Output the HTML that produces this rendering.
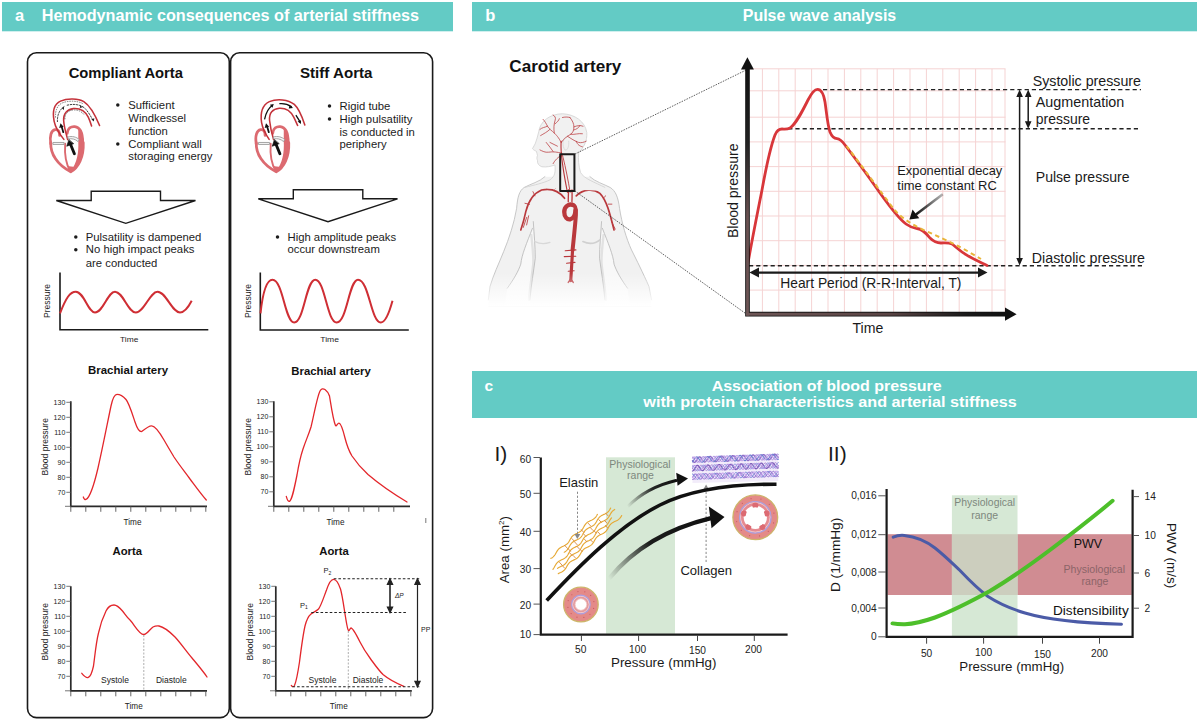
<!DOCTYPE html>
<html><head><meta charset="utf-8">
<style>
html,body{margin:0;padding:0;background:#fff;width:1200px;height:721px;overflow:hidden}
svg{display:block;font-family:"Liberation Sans",sans-serif}
</style></head><body>
<svg width="1200" height="721" viewBox="0 0 1200 721">
<rect width="1200" height="721" fill="#fff"/>
<rect x="2" y="2" width="451" height="29.3" fill="#63cbc5"/>
<rect x="472" y="2" width="725" height="29.3" fill="#63cbc5"/>
<rect x="472" y="371" width="725" height="47" fill="#63cbc5"/>
<text x="15" y="21.2" font-size="16.5" font-weight="bold" fill="#fff" >a</text>
<text x="41.7" y="21.2" font-size="16.2" font-weight="bold" textLength="377.3" lengthAdjust="spacingAndGlyphs" fill="#fff" >Hemodynamic consequences of arterial stiffness</text>
<text x="485.3" y="21.2" font-size="16.5" font-weight="bold" fill="#fff" >b</text>
<text x="742.8" y="21.2" font-size="16.2" font-weight="bold" textLength="153.4" lengthAdjust="spacingAndGlyphs" fill="#fff" >Pulse wave analysis</text>
<text x="484.5" y="391" font-size="15.5" font-weight="bold" fill="#fff" >c</text>
<text x="711.7" y="390.7" font-size="15.3" font-weight="bold" textLength="230" lengthAdjust="spacingAndGlyphs" fill="#fff" >Association of blood pressure</text>
<text x="643.3" y="407.3" font-size="15.3" font-weight="bold" textLength="373.4" lengthAdjust="spacingAndGlyphs" fill="#fff" >with protein characteristics and arterial stiffness</text>
<path d="M36.5,52.8 H220.3 A9,9 0 0 1 229.3,61.8 V708.6 A9,9 0 0 1 220.3,717.6 H36.5 A9,9 0 0 1 27.5,708.6 V61.8 A9,9 0 0 1 36.5,52.8 Z" fill="none" stroke="#1a1a1a" stroke-width="1.6"/>
<path d="M239.6,52.8 H423.6 A9,9 0 0 1 432.6,61.8 V708.6 A9,9 0 0 1 423.6,717.6 H239.6 A9,9 0 0 1 230.6,708.6 V61.8 A9,9 0 0 1 239.6,52.8 Z" fill="none" stroke="#1a1a1a" stroke-width="1.6"/>
<text x="68.7" y="77.5" font-size="15" font-weight="bold" textLength="114.3" lengthAdjust="spacingAndGlyphs" fill="#111" >Compliant Aorta</text>
<text x="300" y="77.5" font-size="15" font-weight="bold" textLength="72.5" lengthAdjust="spacingAndGlyphs" fill="#111" >Stiff Aorta</text>
<circle cx="117.8" cy="105.10000000000001" r="1.75" fill="#1c1c1c"/>
<text x="128.3" y="108.7" font-size="11.3" fill="#1c1c1c" >Sufficient</text>
<text x="128.3" y="121.7" font-size="11.3" fill="#1c1c1c" >Windkessel</text>
<text x="128.3" y="134.7" font-size="11.3" fill="#1c1c1c" >function</text>
<circle cx="117.8" cy="143.9" r="1.75" fill="#1c1c1c"/>
<text x="128.3" y="147.5" font-size="11.3" fill="#1c1c1c" >Compliant wall</text>
<text x="128.3" y="160.3" font-size="11.3" fill="#1c1c1c" >storaging energy</text>
<circle cx="329.5" cy="106.10000000000001" r="1.75" fill="#1c1c1c"/>
<text x="339.5" y="109.7" font-size="11.3" fill="#1c1c1c" >Rigid tube</text>
<circle cx="329.5" cy="118.9" r="1.75" fill="#1c1c1c"/>
<text x="339.5" y="122.5" font-size="11.3" fill="#1c1c1c" >High pulsatility</text>
<text x="339.5" y="135.8" font-size="11.3" fill="#1c1c1c" >is conducted in</text>
<text x="339.5" y="148.3" font-size="11.3" fill="#1c1c1c" >periphery</text>
<circle cx="75.8" cy="236.9" r="1.75" fill="#1c1c1c"/>
<text x="85.8" y="240.5" font-size="11.3" fill="#1c1c1c" >Pulsatility is dampened</text>
<circle cx="75.8" cy="249.70000000000002" r="1.75" fill="#1c1c1c"/>
<text x="85.8" y="253.3" font-size="11.3" fill="#1c1c1c" >No high impact peaks</text>
<text x="85.8" y="266.7" font-size="11.3" fill="#1c1c1c" >are conducted</text>
<circle cx="277.5" cy="236.9" r="1.75" fill="#1c1c1c"/>
<text x="287.5" y="240.5" font-size="11.3" fill="#1c1c1c" >High amplitude peaks</text>
<text x="287.5" y="253.3" font-size="11.3" fill="#1c1c1c" >occur downstream</text>
<path d="M91.2,191.2 H160.5 V200.5 H195.5 L125.8,223.3 L56.3,200.5 H91.2 Z" fill="#fff" stroke="#1a1a1a" stroke-width="1.4"/>
<path d="M293.3,189.7 H362.8 V198.8 H397.5 L328,221.7 L258.3,198.8 H293.3 Z" fill="#fff" stroke="#1a1a1a" stroke-width="1.4"/>
<path d="M60,272.5 V329.8 H208.3" fill="none" stroke="#1a1a1a" stroke-width="1.6"/>
<path d="M60,313.3 C66,298 70,291.7 75.8,291.7 C84,291.7 88,312.5 95,312.5 C103,312.5 108,291.7 115,291.7 C123,291.7 128,312.5 135.8,312.5 C144,312.5 150,291.7 157.5,291.7 C166,291.7 172,312.5 180,312.5 C185,312.5 189,306 191.7,300.8" fill="none" stroke="#cf2e34" stroke-width="2"/>
<path d="M260.3,272.5 V330 H408.8" fill="none" stroke="#1a1a1a" stroke-width="1.6"/>
<path d="M260.5,313.3 C263,290 267,279.7 272.5,279.7 C283,279.7 285,322.5 294.2,322.5 C304,322.5 306,279.7 315.3,279.7 C325,279.7 327,322.5 336.7,322.5 C347,322.5 349,279.7 358,279.7 C369,279.7 371,322.5 380.8,322.5 C386,322.5 390,310 392.5,300.8" fill="none" stroke="#cf2e34" stroke-width="2"/>
<text x="120" y="342" font-size="8" textLength="18.3" lengthAdjust="spacingAndGlyphs" fill="#1c1c1c" >Time</text>
<text x="320.3" y="342" font-size="8" textLength="18.7" lengthAdjust="spacingAndGlyphs" fill="#1c1c1c" >Time</text>
<text transform="translate(50.3,301) rotate(-90)" x="0" y="0" font-size="8.2" text-anchor="middle" textLength="34" lengthAdjust="spacingAndGlyphs" fill="#1c1c1c">Pressure</text>
<text transform="translate(251,301) rotate(-90)" x="0" y="0" font-size="8.2" text-anchor="middle" textLength="34" lengthAdjust="spacingAndGlyphs" fill="#1c1c1c">Pressure</text>
<text x="88" y="373.7" font-size="11.4" font-weight="bold" textLength="80" lengthAdjust="spacingAndGlyphs" fill="#111" >Brachial artery</text>
<path d="M70.8,401.3 V506.3 H207" fill="none" stroke="#2a2a2a" stroke-width="1.7"/>
<path d="M65,506.3 H70.8" stroke="#666" stroke-width="0.9"/>
<path d="M66.3,402.3 H70.8" stroke="#555" stroke-width="0.8"/>
<text x="65.3" y="404.7" font-size="7" text-anchor="end" fill="#222" >130</text>
<path d="M66.3,417.3 H70.8" stroke="#555" stroke-width="0.8"/>
<text x="65.3" y="419.7" font-size="7" text-anchor="end" fill="#222" >120</text>
<path d="M66.3,432.3 H70.8" stroke="#555" stroke-width="0.8"/>
<text x="65.3" y="434.7" font-size="7" text-anchor="end" fill="#222" >110</text>
<path d="M66.3,447.3 H70.8" stroke="#555" stroke-width="0.8"/>
<text x="65.3" y="449.7" font-size="7" text-anchor="end" fill="#222" >100</text>
<path d="M66.3,462.3 H70.8" stroke="#555" stroke-width="0.8"/>
<text x="65.3" y="464.7" font-size="7" text-anchor="end" fill="#222" >90</text>
<path d="M66.3,477.3 H70.8" stroke="#555" stroke-width="0.8"/>
<text x="65.3" y="479.7" font-size="7" text-anchor="end" fill="#222" >80</text>
<path d="M66.3,492.3 H70.8" stroke="#555" stroke-width="0.8"/>
<text x="65.3" y="494.7" font-size="7" text-anchor="end" fill="#222" >70</text>
<path d="M70.8,506.3 V511.8" stroke="#555" stroke-width="0.9"/>
<path d="M85.8,506.3 V511.8" stroke="#555" stroke-width="0.9"/>
<path d="M100.8,506.3 V511.8" stroke="#555" stroke-width="0.9"/>
<path d="M115.8,506.3 V511.8" stroke="#555" stroke-width="0.9"/>
<path d="M130.8,506.3 V511.8" stroke="#555" stroke-width="0.9"/>
<path d="M145.8,506.3 V511.8" stroke="#555" stroke-width="0.9"/>
<path d="M160.8,506.3 V511.8" stroke="#555" stroke-width="0.9"/>
<path d="M175.8,506.3 V511.8" stroke="#555" stroke-width="0.9"/>
<path d="M190.8,506.3 V511.8" stroke="#555" stroke-width="0.9"/>
<path d="M205.8,506.3 V511.8" stroke="#555" stroke-width="0.9"/>
<text x="132.5" y="524.8" font-size="8.2" text-anchor="middle" fill="#222" >Time</text>
<text transform="translate(48.3,446.8) rotate(-90)" x="0" y="0" font-size="8.5" text-anchor="middle" textLength="57.5" lengthAdjust="spacingAndGlyphs" fill="#222">Blood pressure</text>
<path d="M83.3,497 C84,499 85,500 86.3,499.3 C90,497 94,485 98,468 C103,446 108,420 111,406 C112.5,399 114.5,394.3 117,394.3 C120,394.3 123,396 126,399.5 C129,403 132,413 135,422 C137,428 139,431.8 141.5,431.6 C146,428 149,425.5 151.8,425.8 C155,426 160,433 164,440 C168,447 171,452 174,457 C180,466 185,472 190,479 C196,487 201,494 206.3,500" fill="none" stroke="#e3262b" stroke-width="1.3" stroke-linecap="round" stroke-linejoin="round"/>
<text x="291.3" y="375" font-size="11.4" font-weight="bold" textLength="79.5" lengthAdjust="spacingAndGlyphs" fill="#111" >Brachial artery</text>
<path d="M273.8,401.3 V506.3 H410" fill="none" stroke="#2a2a2a" stroke-width="1.7"/>
<path d="M268,506.3 H273.8" stroke="#666" stroke-width="0.9"/>
<path d="M269.3,401.8 H273.8" stroke="#555" stroke-width="0.8"/>
<text x="268.3" y="404.2" font-size="7" text-anchor="end" fill="#222" >130</text>
<path d="M269.3,416.8 H273.8" stroke="#555" stroke-width="0.8"/>
<text x="268.3" y="419.2" font-size="7" text-anchor="end" fill="#222" >120</text>
<path d="M269.3,431.8 H273.8" stroke="#555" stroke-width="0.8"/>
<text x="268.3" y="434.2" font-size="7" text-anchor="end" fill="#222" >110</text>
<path d="M269.3,446.8 H273.8" stroke="#555" stroke-width="0.8"/>
<text x="268.3" y="449.2" font-size="7" text-anchor="end" fill="#222" >100</text>
<path d="M269.3,461.8 H273.8" stroke="#555" stroke-width="0.8"/>
<text x="268.3" y="464.2" font-size="7" text-anchor="end" fill="#222" >90</text>
<path d="M269.3,476.8 H273.8" stroke="#555" stroke-width="0.8"/>
<text x="268.3" y="479.2" font-size="7" text-anchor="end" fill="#222" >80</text>
<path d="M269.3,491.8 H273.8" stroke="#555" stroke-width="0.8"/>
<text x="268.3" y="494.2" font-size="7" text-anchor="end" fill="#222" >70</text>
<path d="M273.8,506.3 V511.8" stroke="#555" stroke-width="0.9"/>
<path d="M288.8,506.3 V511.8" stroke="#555" stroke-width="0.9"/>
<path d="M303.8,506.3 V511.8" stroke="#555" stroke-width="0.9"/>
<path d="M318.8,506.3 V511.8" stroke="#555" stroke-width="0.9"/>
<path d="M333.8,506.3 V511.8" stroke="#555" stroke-width="0.9"/>
<path d="M348.8,506.3 V511.8" stroke="#555" stroke-width="0.9"/>
<path d="M363.8,506.3 V511.8" stroke="#555" stroke-width="0.9"/>
<path d="M378.8,506.3 V511.8" stroke="#555" stroke-width="0.9"/>
<path d="M393.8,506.3 V511.8" stroke="#555" stroke-width="0.9"/>
<text x="335.5" y="524.8" font-size="8.2" text-anchor="middle" fill="#222" >Time</text>
<text transform="translate(251,446.8) rotate(-90)" x="0" y="0" font-size="8.5" text-anchor="middle" textLength="57.5" lengthAdjust="spacingAndGlyphs" fill="#222">Blood pressure</text>
<path d="M286.3,496.3 C287,499 288,501.5 289.5,501.3 C292,500 294,490 297,475 C299,463 301,455 303,449 C306,440 308.5,435 311,427 C314,415 317,397 320,391 C321.5,388.5 323,388.3 325,389.5 C327,391 328.5,392 329.5,396 C331,405 333,420 335.5,425.5 C336.5,427 337.5,423 339,423.2 C341,423.5 343,430 345,438 C347,446 349,451 352,456 C357,463.5 362,469 368,474.5 C378,483 392,493 407,502" fill="none" stroke="#e3262b" stroke-width="1.3" stroke-linecap="round" stroke-linejoin="round"/>
<text x="112.5" y="555" font-size="11.4" font-weight="bold" textLength="29.5" lengthAdjust="spacingAndGlyphs" fill="#111" >Aorta</text>
<path d="M70.8,586.3 V690.8 H207" fill="none" stroke="#2a2a2a" stroke-width="1.7"/>
<path d="M65,690.8 H70.8" stroke="#666" stroke-width="0.9"/>
<path d="M66.3,586.3 H70.8" stroke="#555" stroke-width="0.8"/>
<text x="65.3" y="588.6999999999999" font-size="7" text-anchor="end" fill="#222" >130</text>
<path d="M66.3,601.3 H70.8" stroke="#555" stroke-width="0.8"/>
<text x="65.3" y="603.6999999999999" font-size="7" text-anchor="end" fill="#222" >120</text>
<path d="M66.3,616.3 H70.8" stroke="#555" stroke-width="0.8"/>
<text x="65.3" y="618.6999999999999" font-size="7" text-anchor="end" fill="#222" >110</text>
<path d="M66.3,631.3 H70.8" stroke="#555" stroke-width="0.8"/>
<text x="65.3" y="633.6999999999999" font-size="7" text-anchor="end" fill="#222" >100</text>
<path d="M66.3,646.3 H70.8" stroke="#555" stroke-width="0.8"/>
<text x="65.3" y="648.6999999999999" font-size="7" text-anchor="end" fill="#222" >90</text>
<path d="M66.3,661.3 H70.8" stroke="#555" stroke-width="0.8"/>
<text x="65.3" y="663.6999999999999" font-size="7" text-anchor="end" fill="#222" >80</text>
<path d="M66.3,676.3 H70.8" stroke="#555" stroke-width="0.8"/>
<text x="65.3" y="678.6999999999999" font-size="7" text-anchor="end" fill="#222" >70</text>
<path d="M70.8,690.8 V696.3" stroke="#555" stroke-width="0.9"/>
<path d="M85.8,690.8 V696.3" stroke="#555" stroke-width="0.9"/>
<path d="M100.8,690.8 V696.3" stroke="#555" stroke-width="0.9"/>
<path d="M115.8,690.8 V696.3" stroke="#555" stroke-width="0.9"/>
<path d="M130.8,690.8 V696.3" stroke="#555" stroke-width="0.9"/>
<path d="M145.8,690.8 V696.3" stroke="#555" stroke-width="0.9"/>
<path d="M160.8,690.8 V696.3" stroke="#555" stroke-width="0.9"/>
<path d="M175.8,690.8 V696.3" stroke="#555" stroke-width="0.9"/>
<path d="M190.8,690.8 V696.3" stroke="#555" stroke-width="0.9"/>
<path d="M205.8,690.8 V696.3" stroke="#555" stroke-width="0.9"/>
<text x="133.8" y="709.3" font-size="8.2" text-anchor="middle" fill="#222" >Time</text>
<text transform="translate(48.3,631.8) rotate(-90)" x="0" y="0" font-size="8.5" text-anchor="middle" textLength="57.5" lengthAdjust="spacingAndGlyphs" fill="#222">Blood pressure</text>
<path d="M81.8,673.3 C84,676 86,677.8 88,677.5 C90.5,677 92,673 93.5,666 C95,655 96,643 98.5,633 C100,626 103,617 106,611 C108,607 111,605 114,605 C117,605 119.5,607.5 122.5,611 C125,614 127,617.5 130,620 C134,624 139,634.5 143.8,634.5 C147,634.5 150,629 153,627 C155,626 157,625.8 159,626 C164,627 169,631 175,637 C181,643.5 186,651 192,658 C197,664 203,671 207,677" fill="none" stroke="#e3262b" stroke-width="1.3" stroke-linecap="round" stroke-linejoin="round"/>
<text x="319.3" y="555" font-size="11.4" font-weight="bold" textLength="29.5" lengthAdjust="spacingAndGlyphs" fill="#111" >Aorta</text>
<path d="M275.8,586.3 V690.8 H411.8" fill="none" stroke="#2a2a2a" stroke-width="1.7"/>
<path d="M270,690.8 H275.8" stroke="#666" stroke-width="0.9"/>
<path d="M271.3,586.3 H275.8" stroke="#555" stroke-width="0.8"/>
<text x="270.3" y="588.6999999999999" font-size="7" text-anchor="end" fill="#222" >130</text>
<path d="M271.3,601.3 H275.8" stroke="#555" stroke-width="0.8"/>
<text x="270.3" y="603.6999999999999" font-size="7" text-anchor="end" fill="#222" >120</text>
<path d="M271.3,616.3 H275.8" stroke="#555" stroke-width="0.8"/>
<text x="270.3" y="618.6999999999999" font-size="7" text-anchor="end" fill="#222" >110</text>
<path d="M271.3,631.3 H275.8" stroke="#555" stroke-width="0.8"/>
<text x="270.3" y="633.6999999999999" font-size="7" text-anchor="end" fill="#222" >100</text>
<path d="M271.3,646.3 H275.8" stroke="#555" stroke-width="0.8"/>
<text x="270.3" y="648.6999999999999" font-size="7" text-anchor="end" fill="#222" >90</text>
<path d="M271.3,661.3 H275.8" stroke="#555" stroke-width="0.8"/>
<text x="270.3" y="663.6999999999999" font-size="7" text-anchor="end" fill="#222" >80</text>
<path d="M271.3,676.3 H275.8" stroke="#555" stroke-width="0.8"/>
<text x="270.3" y="678.6999999999999" font-size="7" text-anchor="end" fill="#222" >70</text>
<path d="M275.8,690.8 V696.3" stroke="#555" stroke-width="0.9"/>
<path d="M290.8,690.8 V696.3" stroke="#555" stroke-width="0.9"/>
<path d="M305.8,690.8 V696.3" stroke="#555" stroke-width="0.9"/>
<path d="M320.8,690.8 V696.3" stroke="#555" stroke-width="0.9"/>
<path d="M335.8,690.8 V696.3" stroke="#555" stroke-width="0.9"/>
<path d="M350.8,690.8 V696.3" stroke="#555" stroke-width="0.9"/>
<path d="M365.8,690.8 V696.3" stroke="#555" stroke-width="0.9"/>
<path d="M380.8,690.8 V696.3" stroke="#555" stroke-width="0.9"/>
<path d="M395.8,690.8 V696.3" stroke="#555" stroke-width="0.9"/>
<path d="M410.8,690.8 V696.3" stroke="#555" stroke-width="0.9"/>
<text x="338.8" y="709.3" font-size="8.2" text-anchor="middle" fill="#222" >Time</text>
<text transform="translate(253,631.8) rotate(-90)" x="0" y="0" font-size="8.5" text-anchor="middle" textLength="57.5" lengthAdjust="spacingAndGlyphs" fill="#222">Blood pressure</text>
<path d="M291.3,685.5 C292.5,687 293.5,687 294.5,685.5 C296.5,681 298,672 299.5,662 C301,650 303,635 305,626 C306.5,620 308,616.5 311,614 C313,612.5 316,611.5 318.5,609 C321,606 323.5,598 326.5,590 C328.5,584 331,579.3 333.5,579.3 C336,579.3 338.5,583 340.5,589 C342.5,596 344,608 345.5,617 C346.5,623 347.5,630 348.6,630.8 C349.5,631 350,628 351,628 C353,628 356,634 360,642 C364,650 367,654 371,659.5 C375,665 378.5,670 383,674.5 C389,679.5 397,683.5 403.8,686.3" fill="none" stroke="#e3262b" stroke-width="1.3" stroke-linecap="round" stroke-linejoin="round"/>
<text x="115" y="682.5" font-size="8.5" text-anchor="middle" fill="#222" >Systole</text>
<text x="171.3" y="682.5" font-size="8.5" text-anchor="middle" fill="#222" >Diastole</text>
<path d="M143.8,635 V690" stroke="#999" stroke-width="0.8" stroke-dasharray="2,1.5"/>
<text x="322.5" y="682.5" font-size="8.5" text-anchor="middle" fill="#222" >Systole</text>
<text x="368" y="682.5" font-size="8.5" text-anchor="middle" fill="#222" >Diastole</text>
<path d="M348.3,631 V690" stroke="#999" stroke-width="0.8" stroke-dasharray="2,1.5"/>
<g stroke="#222" stroke-width="1.1" stroke-dasharray="2.6,2"><path d="M333.8,578.8 H420"/><path d="M311.3,612.5 H407.5"/><path d="M292.5,686.8 H420"/></g>
<g stroke="#222" stroke-width="1.2" fill="#222"><path d="M390,582 V609.5" stroke="#333" stroke-width="1.7"/><path d="M390,578.8 l-2.6,5.5 h5.2z M390,612.5 l-2.6,-5.5 h5.2z"/><path d="M417.5,582 V683.5"/><path d="M417.5,578.8 l-2.6,5.5 h5.2z M417.5,686.8 l-2.6,-5.5 h5.2z"/></g>
<text x="300" y="607.5" font-size="7.5" fill="#222">P<tspan font-size="5" dy="1.5">1</tspan></text>
<text x="323.5" y="573" font-size="7.5" fill="#222">P<tspan font-size="5" dy="1.5">2</tspan></text>
<text x="395" y="598" font-size="6.5" font-style="italic" fill="#222">ΔP</text>
<text x="421" y="632.2" font-size="7" fill="#222" >PP</text>
<path d="M425.8,518 V523" stroke="#555" stroke-width="0.8"/>
<g transform="translate(45,95) scale(0.11090)" fill="none" stroke-linecap="round" stroke-linejoin="round"><path d="M300,420 C305,520 290,610 232,690 C300,660 352,560 348,430 C346,380 335,330 300,300 Z" fill="#dc6a70" stroke="none"/><path d="M52,440 C40,370 55,318 92,312 C118,308 132,330 132,365" stroke="#dc6a70" stroke-width="25"/><path d="M200,345 C205,300 235,282 268,285 C318,290 340,345 340,430" stroke="#dc6a70" stroke-width="25"/><path d="M52,430 C48,530 110,630 232,692 C300,655 350,560 345,430" stroke="#dc6a70" stroke-width="25"/><path d="M182,440 C176,520 185,615 228,688" stroke="#dc6a70" stroke-width="17"/><path d="M200,640 C215,665 225,680 232,692 C250,680 262,668 272,650 Z" fill="#dc6a70" stroke="none"/><path d="M170,400 C130,350 95,300 82,235 C68,160 75,85 140,55 C200,28 300,30 350,60 C405,95 450,175 492,275" stroke="#c4323a" stroke-width="14"/><path d="M205,402 C190,350 172,290 168,230 C165,170 200,130 255,123 C320,118 365,150 390,200 C402,225 412,255 420,280" stroke="#c4323a" stroke-width="14"/><path d="M75,428 L172,428 L172,446 L75,446 Z" fill="#f4f4f4" stroke="#9a9a9a" stroke-width="8"/><path d="M208,378 C245,368 285,378 308,402 L298,420 C272,396 240,390 212,396 Z" fill="#f4f4f4" stroke="#9a9a9a" stroke-width="8"/><path d="M265,530 L228,440" stroke="#111" stroke-width="26"/><path d="M215,405 L196,462 L256,440 Z" fill="#111" stroke="#111" stroke-width="6"/><path d="M165,335 L150,285" stroke="#111" stroke-width="16"/><path d="M140,255 L128,298 L168,286 Z" fill="#111"/><path d="M112,240 C110,180 130,130 180,100" stroke="#222" stroke-width="8" stroke-dasharray="14,14"/><path d="M200,92 C270,75 330,90 365,125 C395,160 415,195 430,225" stroke="#222" stroke-width="8" stroke-dasharray="14,14"/><path d="M440,240 L418,218 L445,210 Z" fill="#222"/><path d="M338,110 L318,92 L314,118 Z" fill="#222"/><path d="M172,105 L150,118 L170,135 Z" fill="#222"/><path d="M95,200 C92,140 110,90 160,70 C220,48 300,52 345,80" stroke="#555" stroke-width="7" stroke-dasharray="6,16"/><path d="M180,215 C178,170 205,140 255,135 C300,132 330,150 350,175" stroke="#555" stroke-width="7" stroke-dasharray="6,16"/></g>
<g transform="translate(250.5,95) scale(0.11090)" fill="none" stroke-linecap="round" stroke-linejoin="round"><path d="M300,420 C305,520 290,610 232,690 C300,660 352,560 348,430 C346,380 335,330 300,300 Z" fill="#dc6a70" stroke="none"/><path d="M52,440 C40,370 55,318 92,312 C118,308 132,330 132,365" stroke="#dc6a70" stroke-width="25"/><path d="M200,345 C205,300 235,282 268,285 C318,290 340,345 340,430" stroke="#dc6a70" stroke-width="25"/><path d="M52,430 C48,530 110,630 232,692 C300,655 350,560 345,430" stroke="#dc6a70" stroke-width="25"/><path d="M182,440 C176,520 185,615 228,688" stroke="#dc6a70" stroke-width="17"/><path d="M200,640 C215,665 225,680 232,692 C250,680 262,668 272,650 Z" fill="#dc6a70" stroke="none"/><path d="M168,400 C140,360 112,320 100,250 C88,170 100,95 170,60 C240,30 340,40 395,85 C440,125 465,195 490,270" stroke="#c4323a" stroke-width="14"/><path d="M208,402 C195,360 180,300 172,230 C166,160 200,125 260,120 C320,117 365,150 390,200 C405,230 415,255 425,275" stroke="#c4323a" stroke-width="14"/><path d="M75,428 L172,428 L172,446 L75,446 Z" fill="#f4f4f4" stroke="#9a9a9a" stroke-width="8"/><path d="M208,378 C245,368 285,378 308,402 L298,420 C272,396 240,390 212,396 Z" fill="#f4f4f4" stroke="#9a9a9a" stroke-width="8"/><path d="M265,530 L228,440" stroke="#111" stroke-width="26"/><path d="M215,405 L196,462 L256,440 Z" fill="#111" stroke="#111" stroke-width="6"/><path d="M165,335 L150,285" stroke="#111" stroke-width="16"/><path d="M140,255 L128,298 L168,286 Z" fill="#111"/><path d="M128,215 C140,160 160,120 195,95" stroke="#111" stroke-width="12"/><path d="M210,82 L175,88 L198,115 Z" fill="#111"/><path d="M265,78 C300,75 340,85 368,105" stroke="#111" stroke-width="12"/><path d="M385,118 L352,92 L345,122 Z" fill="#111"/><path d="M412,185 C425,205 438,225 448,245" stroke="#111" stroke-width="12"/><path d="M455,262 L425,238 L455,228 Z" fill="#111"/></g>
<text x="509.3" y="71.6" font-size="17" font-weight="bold" textLength="112" lengthAdjust="spacingAndGlyphs" fill="#111" >Carotid artery</text>
<defs><linearGradient id="fadeB" x1="0" y1="0" x2="0" y2="1"><stop offset="0" stop-color="#fff" stop-opacity="0"/><stop offset="1" stop-color="#fff" stop-opacity="1"/></linearGradient></defs><g transform="translate(485,180) scale(0.16650)" stroke-linejoin="round" stroke-linecap="round"><path d="M360,-20 C330,10 270,25 235,45 C205,65 195,105 190,170 C175,260 145,350 112,430 C80,510 50,570 30,640 L20,760 L1000,760 L985,640 C950,560 910,480 880,420 C848,350 822,260 808,170 C800,105 785,65 752,45 C715,25 660,10 630,-20 Z" fill="#f1f1f1" stroke="none"/><path d="M360,-20 C330,10 270,25 235,45 C205,65 195,105 190,170 C175,260 145,350 112,430 C80,510 50,570 30,640 L20,720 M630,-20 C660,10 715,25 752,45 C785,65 800,105 808,170 C822,260 848,350 880,420 C910,480 950,560 985,640 L1000,720" fill="none" stroke="#bdbdbd" stroke-width="5"/><path d="M705,290 C740,380 770,450 775,505 C790,550 820,600 856,650 L870,760 L722,760 C715,630 700,550 690,470 C690,400 695,330 705,290 Z" fill="#f8f8f8" stroke="none"/><path d="M285,290 C250,380 220,450 215,505 C200,550 170,600 134,650 L120,760 L272,760 C275,630 280,550 290,470 C300,400 295,330 285,290 Z" fill="#f8f8f8" stroke="none"/><path d="M712,330 C705,400 698,450 700,500 C708,580 720,640 726,720" fill="none" stroke="#e2e2e2" stroke-width="14"/><path d="M278,330 C285,400 292,450 290,500 C282,580 270,640 264,720" fill="none" stroke="#e2e2e2" stroke-width="14"/><path d="M700,250 C695,330 688,400 688,470 C698,550 713,630 720,720" fill="none" stroke="#b8b8b8" stroke-width="5"/><path d="M290,250 C295,330 302,400 302,470 C292,550 277,630 270,720" fill="none" stroke="#b8b8b8" stroke-width="5"/><path d="M705,290 C740,380 770,450 775,505 C790,550 820,600 856,650" fill="none" stroke="#b8b8b8" stroke-width="5"/><path d="M285,290 C250,380 220,450 215,505 C200,550 170,600 134,650" fill="none" stroke="#b8b8b8" stroke-width="5"/><path d="M300,370 C330,385 360,385 390,375" fill="none" stroke="#d8d8d8" stroke-width="8"/><path d="M588,370 C620,385 660,385 693,358" fill="none" stroke="#d0d0d0" stroke-width="10"/><g fill="none" stroke="#b9383c"><path d="M478,110 C440,60 390,50 340,60 C290,80 260,130 245,190 C235,240 225,270 215,300" stroke-width="10"/><path d="M548,95 C590,55 650,50 690,80 C730,120 750,200 775,300" stroke-width="10"/><path d="M240,140 L268,146 M250,225 L230,285 M262,215 L250,270 M368,48 L362,38 M420,55 L430,44 M300,95 L288,70 M710,110 L725,95 M740,145 L762,145 M760,250 L782,295 M650,60 L660,45 M600,55 L590,44" stroke-width="5"/><path d="M500,130 C500,90 503,40 505,-10 M522,130 C525,90 522,40 520,-10" stroke-width="8"/><path d="M528,150 C503,140 476,160 476,192 C476,224 495,240 512,236 C532,230 543,205 543,180" stroke-width="26"/><path d="M526,148 C550,152 548,185 546,210 C541,280 533,350 526,420" stroke-width="24"/><path d="M526,420 C521,500 518,560 515,605" stroke-width="19"/><path d="M482,425 L546,420 M476,460 L545,458 M490,500 L540,495 M500,548 L535,545" stroke-width="7"/><path d="M500,615 L515,595 L530,615" stroke-width="9"/></g><rect x="-20" y="560" width="1100" height="200" fill="url(#fadeB)"/></g>
<g transform="translate(525,105) scale(0.12480)" stroke-linejoin="round" stroke-linecap="round"><path d="M240,480 C245,540 240,570 200,600 C150,625 80,640 0,660 L640,690 C560,620 470,590 445,540 C430,490 425,430 430,385 C470,340 500,290 495,220 C480,130 400,75 300,70 C200,72 120,130 110,215 C100,250 95,280 82,310 L60,350 C70,362 85,368 92,372 C95,385 98,395 100,405 C93,420 95,432 100,445 C98,470 110,485 135,495 C170,500 210,492 240,480 Z" fill="#f1f1f1" stroke="none"/><path d="M0,660 C80,640 150,625 200,600 C240,570 245,540 240,480 C210,492 170,500 135,495 C110,485 98,470 100,445 C95,432 93,420 100,405 C98,395 95,385 92,372 C85,368 70,362 60,350 L82,310 C95,280 100,250 110,215 C120,130 200,72 300,70 C400,75 480,130 495,220 C500,290 470,340 430,385 C425,430 430,490 445,540 C470,590 560,620 640,660" fill="none" stroke="#cfcfcf" stroke-width="6"/><path d="M330,255 C300,260 295,330 320,360 C340,370 355,330 350,290" fill="none" stroke="#d0d0d0" stroke-width="5"/><g fill="none" stroke="#b9383c" stroke-width="6"><path d="M340,700 C320,600 300,480 292,400 C287,340 288,310 290,290" stroke-width="9"/><path d="M362,700 C345,600 325,500 305,420 C300,400 296,390 292,380" stroke-width="7"/><path d="M290,300 C270,260 250,240 235,225 C215,205 195,195 180,170 C170,150 160,130 145,115"/><path d="M235,225 C228,190 232,150 242,120 C248,100 240,90 225,80 M242,150 C260,135 270,125 275,110 M180,170 C160,180 135,180 120,195 M200,195 C180,215 150,230 125,245"/><path d="M290,300 C310,270 340,250 365,235 C385,222 392,200 392,175 C392,150 380,125 360,100 M392,175 C420,165 440,160 465,170 M365,235 C395,240 425,225 460,230 M340,250 C370,270 400,290 430,300 C450,305 470,300 490,290"/><path d="M360,100 C340,95 320,95 300,100 M392,200 C410,195 430,185 440,165 M410,290 C420,320 440,330 460,335"/><path d="M292,385 C260,378 225,372 190,378 C160,382 140,370 120,360 M225,372 C210,350 190,325 170,300 M292,400 C265,420 240,440 225,470 M260,330 C240,320 220,310 200,300"/></g><rect x="282" y="395" width="114" height="294" fill="none" stroke="#1a1a1a" stroke-width="16"/></g>
<path d="M575,154 L747,69.6 M575,191 L747,314.5" stroke="#333" stroke-width="0.8" stroke-dasharray="1.5,1.2" fill="none"/>
<g stroke="#f5d3d3" stroke-width="1" fill="none"><path d="M762.4,68.8 V313"/><path d="M778.8,68.8 V313"/><path d="M795.2,68.8 V313"/><path d="M811.6,68.8 V313"/><path d="M828.0,68.8 V313"/><path d="M844.4,68.8 V313"/><path d="M860.8,68.8 V313"/><path d="M877.2,68.8 V313"/><path d="M893.6,68.8 V313"/><path d="M910.0,68.8 V313"/><path d="M926.4,68.8 V313"/><path d="M942.8,68.8 V313"/><path d="M959.2,68.8 V313"/><path d="M975.6,68.8 V313"/><path d="M992.0,68.8 V313"/><path d="M1005.0,68.8 V313"/><path d="M749,68.8 H1005.5"/><path d="M749,90.8 H1005.5"/><path d="M749,117.2 H1005.5"/><path d="M749,141.9 H1005.5"/><path d="M749,166.6 H1005.5"/><path d="M749,191.3 H1005.5"/><path d="M749,216.0 H1005.5"/><path d="M749,240.7 H1005.5"/><path d="M749,265.4 H1005.5"/><path d="M749,290.1 H1005.5"/></g>
<g stroke="#222" stroke-width="1.4" stroke-dasharray="4.2,3" fill="none"><path d="M823,89.6 H1141"/><path d="M781,128.8 H1139"/><path d="M749,265.8 H1142.6"/></g>
<path d="M748,263 C752,240 757,215 762,190 C766,168 770,148 775,135 C777,130 779,129 782,129 C785,129 787,129.5 790,128 C796,124 802,112 808,100 C811,94 814,89.3 817.5,89.3 C821,89.3 823.5,93 825,102 C826.5,112 827.5,125 830,132 C832,137 834,138.5 837,138.7 C840,139 842,141 845,145 C855,158 868,176 880,193 C890,207 898,218 906,224 C910,227 913,228 917,228.5 C922,229 926,233 930,238 C933,241 937,243 941,243 C945,243 949,242.5 952,244 C956,247 960,251 966,254.6 C972,258.5 980,262 987,265.4" fill="none" stroke="#d8363a" stroke-width="2.8" stroke-linecap="round" stroke-linejoin="round"/>
<path d="M846.5,146 C862,166 880,191 895,210.5 C902,218 912,225 925,230.5 C937,236 948,241 958,246 C966,250 974,255 981,259" fill="none" stroke="#e9b53a" stroke-width="2" stroke-dasharray="4.5,3.5"/>
<defs><linearGradient id="yax" x1="0" y1="0" x2="0" y2="1"><stop offset="0" stop-color="#111"/><stop offset="0.3" stop-color="#222"/><stop offset="0.6" stop-color="#6a5252"/><stop offset="1" stop-color="#6e5656"/></linearGradient><linearGradient id="xax" x1="0" y1="0" x2="1" y2="0"><stop offset="0" stop-color="#6e5656"/><stop offset="0.55" stop-color="#5a4444"/><stop offset="0.85" stop-color="#1a1a1a"/><stop offset="1" stop-color="#111"/></linearGradient><linearGradient id="expA" x1="0" y1="0" x2="1" y2="0"><stop offset="0" stop-color="#111"/><stop offset="1" stop-color="#111" stop-opacity="0.3"/></linearGradient></defs>
<path d="M745.2,68 H749.8 V311.8 H1006 V316.6 H745.2 Z" fill="#111"/>
<rect x="746.1" y="68" width="2.8" height="247.6" fill="url(#yax)"/>
<rect x="746.1" y="312.7" width="259.9" height="3" fill="url(#xax)"/>
<path d="M747.4,57.2 L753.9,69.6 L741,69.6 Z" fill="#111"/>
<path d="M1016.6,314.2 L1005,307.6 L1005,320.8 Z" fill="#111"/>
<path d="M756,272.6 H980" stroke="#1a1a1a" stroke-width="2.2"/>
<path d="M749.4,272.6 L759,267.6 L759,277.6 Z M987.5,272.6 L978,267.6 L978,277.6 Z" fill="#1a1a1a"/>
<g stroke="#1a1a1a" stroke-width="1.5"><path d="M1019.6,95 V260"/><path d="M1028.2,95 V123"/></g>
<path d="M1019.6,89.6 l-3.3,7.5 h6.6z M1019.6,265.4 l-3.3,-7.5 h6.6z M1028.2,89.6 l-3.3,7.5 h6.6z M1028.2,128.7 l-3.3,-7.5 h6.6z" fill="#1a1a1a"/>
<path d="M942.8,194.2 L916,214.5" stroke="url(#expA)" stroke-width="2.6" fill="none"/>
<path d="M909.4,219.4 L912.5,209.6 L919.3,218.2 Z" fill="#111"/>
<text x="1032.7" y="86" font-size="14.2" textLength="108.3" lengthAdjust="spacingAndGlyphs" fill="#1a1a1a" >Systolic pressure</text>
<text x="1035.8" y="107.3" font-size="14.2" textLength="88.5" lengthAdjust="spacingAndGlyphs" fill="#1a1a1a" >Augmentation</text>
<text x="1035.8" y="124.1" font-size="14.2" textLength="54.3" lengthAdjust="spacingAndGlyphs" fill="#1a1a1a" >pressure</text>
<text x="1035.8" y="181.5" font-size="14.2" textLength="93.7" lengthAdjust="spacingAndGlyphs" fill="#1a1a1a" >Pulse pressure</text>
<text x="1031.8" y="263" font-size="14.2" textLength="113.2" lengthAdjust="spacingAndGlyphs" fill="#1a1a1a" >Diastolic pressure</text>
<text x="897.3" y="175.2" font-size="12.9" textLength="105" lengthAdjust="spacingAndGlyphs" fill="#1a1a1a" >Exponential decay</text>
<text x="897.3" y="189.7" font-size="12.9" textLength="99.5" lengthAdjust="spacingAndGlyphs" fill="#1a1a1a" >time constant RC</text>
<text x="780.2" y="287.6" font-size="13.9" textLength="181.3" lengthAdjust="spacingAndGlyphs" fill="#1a1a1a" >Heart Period (R-R-Interval, T)</text>
<text x="852.5" y="332.8" font-size="14.2" textLength="30.8" lengthAdjust="spacingAndGlyphs" fill="#1a1a1a" >Time</text>
<text transform="translate(737.8,190.8) rotate(-90)" x="0" y="0" font-size="14" text-anchor="middle" textLength="94.6" lengthAdjust="spacingAndGlyphs" fill="#1a1a1a">Blood pressure</text>
<text x="494.5" y="461" font-size="21" fill="#1a1a1a" >I)</text>
<rect x="606" y="457.3" width="69" height="176.5" fill="#d6e8d5"/>
<text x="609.3" y="467.8" font-size="10.5" textLength="61.3" lengthAdjust="spacingAndGlyphs" fill="#7d877d" >Physiological</text>
<text x="640.5" y="479.4" font-size="10.5" text-anchor="middle" fill="#7d877d" >range</text>
<path d="M540.8,457.5 V634.6 H787.6" fill="none" stroke="#1a1a1a" stroke-width="2.2"/>
<path d="M533.5,457.5 H540" stroke="#555" stroke-width="1"/>
<text x="531.2" y="462.9" font-size="10.2" text-anchor="end" fill="#222" >60</text>
<path d="M533.5,493.3 H540" stroke="#555" stroke-width="1"/>
<text x="531.2" y="497.90000000000003" font-size="10.2" text-anchor="end" fill="#222" >50</text>
<path d="M533.5,531.3 H540" stroke="#555" stroke-width="1"/>
<text x="531.2" y="535.5" font-size="10.2" text-anchor="end" fill="#222" >40</text>
<path d="M533.5,568.6 H540" stroke="#555" stroke-width="1"/>
<text x="531.2" y="573.0" font-size="10.2" text-anchor="end" fill="#222" >30</text>
<path d="M533.5,604.1 H540" stroke="#555" stroke-width="1"/>
<text x="531.2" y="608.5" font-size="10.2" text-anchor="end" fill="#222" >20</text>
<path d="M533.5,634.6 H540" stroke="#555" stroke-width="1"/>
<text x="531.2" y="638.2" font-size="10.2" text-anchor="end" fill="#222" >10</text>
<path d="M581.4,635 V641" stroke="#444" stroke-width="1"/>
<text x="580.7" y="653.4" font-size="10.2" text-anchor="middle" fill="#222" >50</text>
<path d="M638.6,635 V641" stroke="#444" stroke-width="1"/>
<text x="637.6" y="653.4" font-size="10.2" text-anchor="middle" fill="#222" >100</text>
<path d="M697.5,635 V641" stroke="#444" stroke-width="1"/>
<text x="697.5" y="654.3" font-size="10.2" text-anchor="middle" fill="#222" >150</text>
<path d="M754.3,635 V641" stroke="#444" stroke-width="1"/>
<text x="753.5" y="653.4" font-size="10.2" text-anchor="middle" fill="#222" >200</text>
<text x="611" y="666.5" font-size="13.4" textLength="105.5" lengthAdjust="spacingAndGlyphs" fill="#1a1a1a" >Pressure (mmHg)</text>
<text transform="translate(508.5,549.7) rotate(-90)" font-size="13.3" text-anchor="middle" fill="#1a1a1a">Area (mm<tspan font-size="8" dy="-5">2</tspan><tspan dy="5">)</tspan></text>
<g fill="none" stroke="#e6a935" stroke-width="1.15" stroke-linecap="round" stroke-linejoin="round"><polyline points="550.90,558.36 551.72,557.91 552.50,557.40 553.22,556.83 553.87,556.19 554.47,555.49 555.01,554.73 555.51,553.92 555.98,553.08 556.44,552.24 556.91,551.40 557.41,550.60 557.96,549.84 558.56,549.14 559.22,548.51 559.94,547.95 560.72,547.45 561.55,547.00 562.41,546.58 563.29,546.18 564.16,545.77 565.01,545.34 565.81,544.86 566.57,544.33 567.26,543.74 567.89,543.07 568.47,542.35 568.99,541.56 569.47,540.74 569.94,539.90 570.40,539.06 570.88,538.23 571.40,537.45 571.96,536.71 572.59,536.04 573.27,535.43 574.02,534.90 574.82,534.41 575.67,533.98 576.53,533.57 577.41,533.17 578.27,532.75 579.11,532.31 579.90,531.81 580.63,531.26 581.30,530.63 581.91,529.95 582.46,529.20 582.96,528.40 583.44,527.57 583.90,526.72 584.37,525.88 584.86,525.07 585.39,524.30 585.98,523.59 586.63,522.94 587.34,522.37 588.11,521.85 588.93,521.39 589.78,520.96 590.65,520.56 591.53,520.15 592.38,519.73 593.20,519.27 593.97,518.75 594.68,518.17 595.32,517.52 595.91,516.81 596.44,516.04 596.93,515.23 597.40,514.39"/><polyline points="564.25,552.16 565.07,551.69 565.83,551.16 566.53,550.57 567.17,549.92 567.75,549.20 568.27,548.42 568.76,547.60 569.23,546.76 569.69,545.92 570.17,545.09 570.68,544.30 571.24,543.56 571.86,542.88 572.53,542.27 573.28,541.72 574.07,541.23 574.91,540.79 575.78,540.38 576.65,539.98 577.52,539.57 578.36,539.13 579.15,538.64 579.89,538.09 580.57,537.47 581.18,536.79 581.74,536.05 582.25,535.26 582.73,534.43 583.19,533.58 583.66,532.74 584.14,531.93 584.67,531.15 585.25,530.43 585.89,529.78 586.60,529.19 587.36,528.67 588.17,528.20 589.03,527.78 589.90,527.37 590.77,526.97 591.63,526.55 592.45,526.09 593.23,525.58 593.94,525.01 594.60,524.37 595.19,523.66 595.73,522.90 596.22,522.09 596.69,521.25 597.15,520.40 597.63,519.57 598.13,518.77 598.67,518.02 599.28,517.32 599.94,516.69 600.67,516.13 601.45,515.63 602.28,515.18 603.14,514.77 604.02,514.36 604.89,513.96 605.74,513.52 606.54,513.05 607.29,512.51 607.99,511.91 608.62,511.25 609.19,510.52 609.71,509.74 610.19,508.91 610.65,508.07"/><polyline points="552.91,569.32 553.65,568.31 554.32,567.22 554.94,566.09 555.57,564.97 556.25,563.89 557.02,562.92 557.90,562.05 558.88,561.31 559.97,560.67 561.12,560.10 562.29,559.56 563.45,559.00 564.54,558.37 565.54,557.64 566.42,556.78 567.20,555.81 567.88,554.75 568.52,553.63 569.14,552.49 569.80,551.40 570.53,550.38 571.37,549.48 572.32,548.70 573.37,548.02 574.50,547.44 575.68,546.89 576.84,546.34 577.96,545.74 578.99,545.05 579.92,544.23 580.73,543.30 581.44,542.27 582.09,541.16 582.71,540.02 583.35,538.91 584.06,537.86 584.86,536.92 585.77,536.10 586.79,535.39 587.90,534.78 589.06,534.22 590.23,533.68 591.37,533.10 592.44,532.44 593.40,531.67 594.25,530.78 594.99,529.78 595.66,528.69 596.28,527.56 596.91,526.43 597.59,525.36 598.35,524.38 599.23,523.51 600.21,522.76 601.29,522.12 602.44,521.55 603.62,521.01 604.77,520.45 605.87,519.82 606.87,519.09 607.75,518.24 608.53,517.28 609.22,516.21 609.86,515.09 610.48,513.96 611.14,512.86 611.87,511.84 612.70,510.94 613.65,510.15 614.70,509.48"/><polyline points="557.49,568.36 558.37,567.75 559.31,567.22 560.31,566.73 561.32,566.27 562.32,565.79 563.28,565.28 564.18,564.69 565.01,564.02 565.75,563.27 566.41,562.42 567.00,561.51 567.55,560.55 568.09,559.57 568.63,558.61 569.22,557.69 569.87,556.84 570.60,556.07 571.42,555.40 572.31,554.80 573.27,554.28 574.26,553.80 575.28,553.33 576.27,552.85 577.23,552.33 578.12,551.73 578.92,551.05 579.65,550.27 580.30,549.42 580.88,548.50 581.43,547.53 581.96,546.55 582.51,545.60 583.11,544.69 583.78,543.85 584.52,543.10 585.35,542.43 586.25,541.85 587.22,541.34 588.22,540.86 589.23,540.40 590.22,539.91 591.17,539.37 592.04,538.76 592.84,538.07 593.55,537.28 594.19,536.41 594.76,535.48 595.30,534.51 595.84,533.53 596.40,532.58 597.01,531.68 597.68,530.86 598.44,530.12 599.28,529.48 600.20,528.91 601.17,528.40 602.18,527.93 603.19,527.46 604.17,526.97 605.11,526.42 605.97,525.80 606.75,525.08 607.45,524.28 608.07,523.40 608.64,522.46 609.18,521.49 609.72,520.52 610.28,519.57 610.90,518.68 611.59,517.87"/><polyline points="558.30,573.63 559.46,573.07 560.63,572.53 561.78,571.96 562.86,571.32 563.85,570.57 564.72,569.70 565.48,568.72 566.16,567.65 566.79,566.52 567.41,565.39 568.08,564.30 568.82,563.30 569.67,562.41 570.64,561.64 571.70,560.98 572.84,560.40 574.01,559.86 575.18,559.30 576.29,558.69 577.31,557.98 578.22,557.16 579.02,556.21 579.72,555.17 580.36,554.05 580.98,552.92 581.63,551.81 582.34,550.78 583.16,549.84 584.08,549.03 585.11,548.34 586.23,547.74 587.40,547.19 588.57,546.64 589.70,546.06 590.75,545.38 591.70,544.60 592.54,543.69 593.27,542.68 593.93,541.58 594.55,540.45 595.19,539.33 595.88,538.26 596.65,537.30 597.54,536.44 598.53,535.71 599.62,535.08 600.78,534.52 601.96,533.98 603.11,533.41 604.19,532.77 605.18,532.03 606.05,531.16 606.82,530.18 607.50,529.11 608.13,527.99 608.75,526.85 609.42,525.76 610.16,524.76 611.01,523.87 611.97,523.09 613.03,522.43 614.17,521.85 615.34,521.31 616.50,520.75 617.61,520.14 618.64,519.44 619.55,518.62 620.35,517.68 621.06,516.63 621.70,515.52"/></g><g stroke="#d88a40" stroke-width="0.9" fill="none"><path d="M564.39,545.05 L567.46,548.34"/><path d="M571.63,538.30 L574.70,541.59"/><path d="M581.07,529.49 L584.14,532.78"/><path d="M587.97,523.06 L591.04,526.35"/><path d="M567.64,548.17 L570.71,551.46"/><path d="M574.48,541.80 L577.55,545.09"/><path d="M583.29,533.58 L586.35,536.87"/><path d="M590.03,527.29 L593.10,530.58"/><path d="M598.52,519.38 L601.59,522.67"/><path d="M605.41,512.95 L608.48,516.24"/><path d="M559.27,562.13 L562.20,565.28"/><path d="M569.48,552.61 L572.41,555.76"/><path d="M576.60,545.97 L579.53,549.11"/><path d="M584.16,538.92 L587.10,542.06"/><path d="M593.50,530.21 L596.43,533.35"/><path d="M604.24,520.19 L607.17,523.34"/><path d="M562.08,565.39 L564.80,568.32"/><path d="M572.94,555.26 L575.67,558.18"/><path d="M579.73,548.93 L582.46,551.86"/><path d="M590.08,539.28 L592.81,542.20"/><path d="M597.93,531.96 L600.66,534.88"/><path d="M605.15,525.23 L607.87,528.15"/></g>
<path d="M577.5,491.7 V535" stroke="#888" stroke-width="1" stroke-dasharray="2.2,1.8"/>
<path d="M577.3,539 L574.5,534 L580.3,534 Z" fill="#888"/>
<text x="559.2" y="487" font-size="13" textLength="39.1" lengthAdjust="spacingAndGlyphs" fill="#1a1a1a" >Elastin</text>
<path d="M692.5,456.5 L778.3,453.5 L778.3,481 L692.5,483 Z" fill="#ece4f8" opacity="0.7"/><g fill="none" stroke-linecap="round"><polyline points="692.5,460.6 692.9,461.3 693.4,461.8 693.8,462.2 694.2,462.4 694.6,462.4 695.1,462.2 695.5,461.8 695.9,461.3 696.4,460.7 696.8,460.0 697.2,459.2 697.6,458.5 698.1,457.9 698.5,457.4 698.9,457.0 699.4,456.9 699.8,456.9 700.2,457.1 700.7,457.4 701.1,457.9 701.5,458.6 701.9,459.2 702.4,459.9 702.8,460.6 703.2,461.1 703.7,461.6 704.1,461.9 704.5,462.0 704.9,462.0 705.4,461.8 705.8,461.4 706.2,460.9 706.7,460.3 707.1,459.7 707.5,459.0 707.9,458.3 708.4,457.7 708.8,457.2 709.2,456.8 709.7,456.6 710.1,456.5 710.5,456.5 710.9,456.8 711.4,457.1 711.8,457.6 712.2,458.2 712.7,458.8 713.1,459.4 713.5,460.0 714.0,460.6 714.4,461.0 714.8,461.4 715.2,461.6 715.7,461.7 716.1,461.6 716.5,461.4 717.0,461.0 717.4,460.5 717.8,460.0 718.2,459.4 718.7,458.7 719.1,458.1 719.5,457.5 720.0,457.0 720.4,456.6 720.8,456.3 721.2,456.1 721.7,456.1 722.1,456.2 722.5,456.5 723.0,456.9 723.4,457.4 723.8,457.9 724.2,458.5 724.7,459.1 725.1,459.7 725.5,460.3 726.0,460.7 726.4,461.0 726.8,461.2 727.2,461.3 727.7,461.2 728.1,460.9 728.5,460.5 729.0,460.0 729.4,459.4 729.8,458.7 730.3,458.1 730.7,457.4 731.1,456.8 731.5,456.3 732.0,456.0 732.4,455.7 732.8,455.7 733.3,455.8 733.7,456.1 734.1,456.5 734.5,457.0 735.0,457.6 735.4,458.3 735.8,458.9 736.3,459.6 736.7,460.1 737.1,460.5 737.5,460.8 738.0,460.9 738.4,460.8 738.8,460.5 739.3,460.1 739.7,459.6 740.1,458.9 740.5,458.2 741.0,457.5 741.4,456.8 741.8,456.2 742.3,455.7 742.7,455.4 743.1,455.3 743.6,455.4 744.0,455.7 744.4,456.1 744.8,456.7 745.3,457.3 745.7,458.0 746.1,458.7 746.6,459.4 747.0,459.9 747.4,460.3 747.8,460.5 748.3,460.5 748.7,460.3 749.1,460.0 749.6,459.4 750.0,458.8 750.4,458.1 750.8,457.3 751.3,456.6 751.7,456.0 752.1,455.5 752.6,455.1 753.0,455.0 753.4,455.0 753.8,455.2 754.3,455.6 754.7,456.2 755.1,456.8 755.6,457.5 756.0,458.2 756.4,458.8 756.8,459.4 757.3,459.8 757.7,460.1 758.1,460.2 758.6,460.1 759.0,459.8 759.4,459.4 759.9,458.8 760.3,458.2 760.7,457.5 761.1,456.8 761.6,456.1 762.0,455.5 762.4,455.1 762.9,454.8 763.3,454.6 763.7,454.6 764.1,454.8 764.6,455.1 765.0,455.6 765.4,456.2 765.9,456.8 766.3,457.4 766.7,458.1 767.1,458.6 767.6,459.1 768.0,459.5 768.4,459.7 768.9,459.8 769.3,459.7 769.7,459.5 770.1,459.2 770.6,458.7 771.0,458.1 771.4,457.5 771.9,456.8 772.3,456.2 772.7,455.6 773.2,455.1 773.6,454.7 774.0,454.4 774.4,454.2 774.9,454.2 775.3,454.4 775.7,454.6 776.2,455.0 776.6,455.5 777.0,456.1 777.4,456.7 777.9,457.3 778.3,457.9" stroke="#8e6cc8" stroke-width="1.3"/><polyline points="692.5,461.9 692.9,461.4 693.4,460.8 693.8,460.1 694.2,459.4 694.6,458.7 695.1,458.1 695.5,457.6 695.9,457.2 696.4,457.0 696.8,456.9 697.2,457.1 697.6,457.3 698.1,457.8 698.5,458.3 698.9,458.9 699.4,459.6 699.8,460.2 700.2,460.8 700.7,461.3 701.1,461.7 701.5,462.0 701.9,462.1 702.4,462.1 702.8,461.9 703.2,461.6 703.7,461.1 704.1,460.6 704.5,460.0 704.9,459.3 705.4,458.7 705.8,458.0 706.2,457.5 706.7,457.1 707.1,456.8 707.5,456.6 707.9,456.6 708.4,456.7 708.8,456.9 709.2,457.3 709.7,457.8 710.1,458.4 710.5,459.0 710.9,459.6 711.4,460.2 711.8,460.7 712.2,461.1 712.7,461.5 713.1,461.7 713.5,461.7 714.0,461.7 714.4,461.4 714.8,461.1 715.2,460.6 715.7,460.0 716.1,459.4 716.5,458.8 717.0,458.1 717.4,457.5 717.8,457.0 718.2,456.6 718.7,456.3 719.1,456.2 719.5,456.2 720.0,456.3 720.4,456.7 720.8,457.1 721.2,457.6 721.7,458.2 722.1,458.9 722.5,459.5 723.0,460.1 723.4,460.6 723.8,461.0 724.2,461.3 724.7,461.4 725.1,461.3 725.5,461.0 726.0,460.6 726.4,460.1 726.8,459.5 727.2,458.8 727.7,458.1 728.1,457.4 728.5,456.8 729.0,456.3 729.4,456.0 729.8,455.8 730.3,455.8 730.7,456.0 731.1,456.4 731.5,456.9 732.0,457.5 732.4,458.2 732.8,458.9 733.3,459.5 733.7,460.1 734.1,460.6 734.5,460.9 735.0,461.0 735.4,460.9 735.8,460.7 736.3,460.2 736.7,459.6 737.1,458.9 737.5,458.2 738.0,457.5 738.4,456.8 738.8,456.2 739.3,455.8 739.7,455.5 740.1,455.4 740.5,455.5 741.0,455.9 741.4,456.3 741.8,456.9 742.3,457.6 742.7,458.3 743.1,459.0 743.6,459.6 744.0,460.1 744.4,460.5 744.8,460.6 745.3,460.6 745.7,460.4 746.1,460.0 746.6,459.4 747.0,458.8 747.4,458.1 747.8,457.4 748.3,456.7 748.7,456.1 749.1,455.6 749.6,455.2 750.0,455.1 750.4,455.1 750.8,455.3 751.3,455.7 751.7,456.1 752.1,456.7 752.6,457.4 753.0,458.1 753.4,458.7 753.8,459.3 754.3,459.7 754.7,460.1 755.1,460.3 755.6,460.3 756.0,460.1 756.4,459.8 756.8,459.4 757.3,458.8 757.7,458.2 758.1,457.5 758.6,456.9 759.0,456.2 759.4,455.7 759.9,455.2 760.3,454.9 760.7,454.7 761.1,454.7 761.6,454.8 762.0,455.1 762.4,455.5 762.9,456.0 763.3,456.5 763.7,457.2 764.1,457.8 764.6,458.4 765.0,458.9 765.4,459.3 765.9,459.6 766.3,459.8 766.7,459.9 767.1,459.8 767.6,459.5 768.0,459.2 768.4,458.7 768.9,458.1 769.3,457.5 769.7,456.9 770.1,456.2 770.6,455.6 771.0,455.1 771.4,454.7 771.9,454.4 772.3,454.3 772.7,454.3 773.2,454.5 773.6,454.8 774.0,455.2 774.4,455.7 774.9,456.3 775.3,456.9 775.7,457.5 776.2,458.1 776.6,458.6 777.0,459.1 777.4,459.3 777.9,459.5 778.3,459.5" stroke="#6a7fd0" stroke-width="1.1"/><polyline points="692.5,458.2 692.9,457.7 693.4,457.3 693.8,457.1 694.2,457.0 694.6,457.1 695.1,457.4 695.5,457.7 695.9,458.2 696.4,458.8 696.8,459.4 697.2,460.0 697.6,460.6 698.1,461.1 698.5,461.6 698.9,461.9 699.4,462.2 699.8,462.2 700.2,462.2 700.7,461.9 701.1,461.6 701.5,461.1 701.9,460.6 702.4,459.9 702.8,459.3 703.2,458.7 703.7,458.1 704.1,457.5 704.5,457.1 704.9,456.8 705.4,456.7 705.8,456.6 706.2,456.8 706.7,457.0 707.1,457.4 707.5,457.9 707.9,458.5 708.4,459.1 708.8,459.7 709.2,460.3 709.7,460.9 710.1,461.3 710.5,461.6 710.9,461.8 711.4,461.8 711.8,461.7 712.2,461.4 712.7,461.0 713.1,460.4 713.5,459.8 714.0,459.1 714.4,458.5 714.8,457.8 715.2,457.2 715.7,456.8 716.1,456.4 716.5,456.3 717.0,456.3 717.4,456.4 717.8,456.7 718.2,457.2 718.7,457.8 719.1,458.4 719.5,459.1 720.0,459.8 720.4,460.4 720.8,460.9 721.2,461.2 721.7,461.4 722.1,461.4 722.5,461.2 723.0,460.9 723.4,460.4 723.8,459.8 724.2,459.0 724.7,458.3 725.1,457.6 725.5,457.0 726.0,456.4 726.4,456.1 726.8,455.9 727.2,455.9 727.7,456.1 728.1,456.5 728.5,457.0 729.0,457.7 729.4,458.4 729.8,459.1 730.3,459.7 730.7,460.3 731.1,460.8 731.5,461.0 732.0,461.1 732.4,461.0 732.8,460.7 733.3,460.2 733.7,459.6 734.1,458.9 734.5,458.1 735.0,457.4 735.4,456.8 735.8,456.2 736.3,455.8 736.7,455.6 737.1,455.5 737.5,455.7 738.0,456.0 738.4,456.5 738.8,457.1 739.3,457.8 739.7,458.5 740.1,459.1 740.5,459.7 741.0,460.2 741.4,460.5 741.8,460.7 742.3,460.7 742.7,460.5 743.1,460.2 743.6,459.7 744.0,459.1 744.4,458.5 744.8,457.8 745.3,457.1 745.7,456.5 746.1,455.9 746.6,455.5 747.0,455.3 747.4,455.2 747.8,455.2 748.3,455.4 748.7,455.8 749.1,456.3 749.6,456.8 750.0,457.5 750.4,458.1 750.8,458.7 751.3,459.3 751.7,459.7 752.1,460.1 752.6,460.3 753.0,460.4 753.4,460.3 753.8,460.1 754.3,459.7 754.7,459.2 755.1,458.6 755.6,458.0 756.0,457.4 756.4,456.7 756.8,456.2 757.3,455.6 757.7,455.2 758.1,454.9 758.6,454.8 759.0,454.8 759.4,454.9 759.9,455.2 760.3,455.6 760.7,456.1 761.1,456.7 761.6,457.3 762.0,457.9 762.4,458.5 762.9,459.0 763.3,459.4 763.7,459.7 764.1,459.9 764.6,460.0 765.0,459.8 765.4,459.6 765.9,459.2 766.3,458.7 766.7,458.1 767.1,457.4 767.6,456.8 768.0,456.1 768.4,455.5 768.9,455.0 769.3,454.7 769.7,454.4 770.1,454.4 770.6,454.5 771.0,454.7 771.4,455.1 771.9,455.6 772.3,456.2 772.7,456.9 773.2,457.5 773.6,458.2 774.0,458.7 774.4,459.1 774.9,459.4 775.3,459.6 775.7,459.5 776.2,459.3 776.6,458.9 777.0,458.4 777.4,457.8 777.9,457.1 778.3,456.3" stroke="#c2a4e8" stroke-width="1.1"/><polyline points="692.5,457.2 692.9,457.5 693.4,457.9 693.8,458.3 694.2,458.9 694.6,459.5 695.1,460.1 695.5,460.7 695.9,461.2 696.4,461.7 696.8,462.0 697.2,462.2 697.6,462.3 698.1,462.2 698.5,462.0 698.9,461.6 699.4,461.1 699.8,460.6 700.2,459.9 700.7,459.3 701.1,458.6 701.5,458.0 701.9,457.5 702.4,457.1 702.8,456.8 703.2,456.7 703.7,456.7 704.1,456.9 704.5,457.3 704.9,457.8 705.4,458.3 705.8,459.0 706.2,459.6 706.7,460.3 707.1,460.8 707.5,461.3 707.9,461.7 708.4,461.9 708.8,461.9 709.2,461.8 709.7,461.4 710.1,461.0 710.5,460.4 710.9,459.7 711.4,459.0 711.8,458.3 712.2,457.7 712.7,457.1 713.1,456.7 713.5,456.4 714.0,456.3 714.4,456.4 714.8,456.7 715.2,457.2 715.7,457.8 716.1,458.4 716.5,459.1 717.0,459.8 717.4,460.5 717.8,461.0 718.2,461.4 718.7,461.5 719.1,461.5 719.5,461.3 720.0,460.9 720.4,460.4 720.8,459.7 721.2,459.0 721.7,458.3 722.1,457.6 722.5,456.9 723.0,456.5 723.4,456.1 723.8,456.0 724.2,456.0 724.7,456.3 725.1,456.7 725.5,457.3 726.0,457.9 726.4,458.6 726.8,459.3 727.2,460.0 727.7,460.5 728.1,460.9 728.5,461.2 729.0,461.2 729.4,461.1 729.8,460.7 730.3,460.3 730.7,459.7 731.1,459.0 731.5,458.3 732.0,457.6 732.4,456.9 732.8,456.4 733.3,456.0 733.7,455.7 734.1,455.6 734.5,455.7 735.0,456.0 735.4,456.4 735.8,456.9 736.3,457.5 736.7,458.2 737.1,458.8 737.5,459.5 738.0,460.0 738.4,460.4 738.8,460.7 739.3,460.8 739.7,460.8 740.1,460.6 740.5,460.3 741.0,459.8 741.4,459.3 741.8,458.6 742.3,458.0 742.7,457.3 743.1,456.7 743.6,456.2 744.0,455.7 744.4,455.4 744.8,455.3 745.3,455.3 745.7,455.4 746.1,455.7 746.6,456.0 747.0,456.5 747.4,457.1 747.8,457.7 748.3,458.3 748.7,458.9 749.1,459.4 749.6,459.9 750.0,460.2 750.4,460.4 750.8,460.4 751.3,460.3 751.7,460.1 752.1,459.7 752.6,459.3 753.0,458.7 753.4,458.1 753.8,457.4 754.3,456.8 754.7,456.2 755.1,455.7 755.6,455.3 756.0,455.0 756.4,454.9 756.8,454.9 757.3,455.0 757.7,455.3 758.1,455.8 758.6,456.3 759.0,456.9 759.4,457.6 759.9,458.2 760.3,458.8 760.7,459.3 761.1,459.7 761.6,459.9 762.0,460.0 762.4,460.0 762.9,459.8 763.3,459.4 763.7,458.9 764.1,458.3 764.6,457.6 765.0,456.9 765.4,456.2 765.9,455.6 766.3,455.1 766.7,454.7 767.1,454.5 767.6,454.5 768.0,454.6 768.4,454.9 768.9,455.4 769.3,456.0 769.7,456.7 770.1,457.4 770.6,458.0 771.0,458.6 771.4,459.1 771.9,459.5 772.3,459.7 772.7,459.7 773.2,459.4 773.6,459.1 774.0,458.5 774.4,457.9 774.9,457.1 775.3,456.4 775.7,455.7 776.2,455.1 776.6,454.6 777.0,454.2 777.4,454.1 777.9,454.2 778.3,454.4" stroke="#9c80d8" stroke-width="0.9"/><polyline points="692.5,471.0 692.9,470.8 693.4,470.5 693.8,470.0 694.2,469.4 694.6,468.7 695.1,467.9 695.5,467.2 695.9,466.5 696.4,466.0 696.8,465.6 697.2,465.4 697.6,465.4 698.1,465.6 698.5,466.0 698.9,466.5 699.4,467.1 699.8,467.8 700.2,468.5 700.7,469.1 701.1,469.7 701.5,470.2 701.9,470.5 702.4,470.6 702.8,470.6 703.2,470.4 703.7,470.0 704.1,469.5 704.5,468.8 704.9,468.2 705.4,467.5 705.8,466.8 706.2,466.2 706.7,465.7 707.1,465.3 707.5,465.1 707.9,465.0 708.4,465.2 708.8,465.4 709.2,465.8 709.7,466.4 710.1,467.0 710.5,467.6 710.9,468.2 711.4,468.8 711.8,469.4 712.2,469.8 712.7,470.1 713.1,470.2 713.5,470.2 714.0,470.1 714.4,469.8 714.8,469.4 715.2,468.8 715.7,468.2 716.1,467.6 716.5,467.0 717.0,466.3 717.4,465.8 717.8,465.3 718.2,465.0 718.7,464.7 719.1,464.7 719.5,464.7 720.0,464.9 720.4,465.3 720.8,465.7 721.2,466.2 721.7,466.8 722.1,467.5 722.5,468.1 723.0,468.6 723.4,469.1 723.8,469.5 724.2,469.7 724.7,469.8 725.1,469.8 725.5,469.6 726.0,469.3 726.4,468.9 726.8,468.3 727.2,467.7 727.7,467.0 728.1,466.4 728.5,465.8 729.0,465.2 729.4,464.8 729.8,464.5 730.3,464.3 730.7,464.3 731.1,464.4 731.5,464.7 732.0,465.1 732.4,465.7 732.8,466.3 733.3,467.0 733.7,467.6 734.1,468.2 734.5,468.7 735.0,469.1 735.4,469.4 735.8,469.5 736.3,469.4 736.7,469.1 737.1,468.7 737.5,468.1 738.0,467.5 738.4,466.8 738.8,466.1 739.3,465.4 739.7,464.8 740.1,464.3 740.5,464.0 741.0,463.9 741.4,463.9 741.8,464.2 742.3,464.6 742.7,465.1 743.1,465.8 743.6,466.5 744.0,467.2 744.4,467.8 744.8,468.4 745.3,468.8 745.7,469.1 746.1,469.1 746.6,469.0 747.0,468.6 747.4,468.1 747.8,467.5 748.3,466.8 748.7,466.0 749.1,465.3 749.6,464.7 750.0,464.1 750.4,463.8 750.8,463.6 751.3,463.6 751.7,463.8 752.1,464.1 752.6,464.6 753.0,465.3 753.4,466.0 753.8,466.7 754.3,467.3 754.7,467.9 755.1,468.4 755.6,468.7 756.0,468.8 756.4,468.7 756.8,468.4 757.3,468.0 757.7,467.4 758.1,466.7 758.6,466.0 759.0,465.3 759.4,464.7 759.9,464.1 760.3,463.6 760.7,463.3 761.1,463.2 761.6,463.2 762.0,463.4 762.4,463.8 762.9,464.3 763.3,464.9 763.7,465.5 764.1,466.2 764.6,466.8 765.0,467.4 765.4,467.8 765.9,468.2 766.3,468.4 766.7,468.4 767.1,468.2 767.6,468.0 768.0,467.5 768.4,467.0 768.9,466.4 769.3,465.8 769.7,465.1 770.1,464.5 770.6,463.9 771.0,463.4 771.4,463.1 771.9,462.9 772.3,462.8 772.7,462.9 773.2,463.1 773.6,463.4 774.0,463.9 774.4,464.4 774.9,465.0 775.3,465.7 775.7,466.3 776.2,466.8 776.6,467.3 777.0,467.6 777.4,467.9 777.9,468.0 778.3,467.9" stroke="#7a5cb8" stroke-width="1.3"/><polyline points="692.5,467.3 692.9,466.7 693.4,466.1 693.8,465.8 694.2,465.6 694.6,465.5 695.1,465.7 695.5,466.0 695.9,466.4 696.4,467.0 696.8,467.6 697.2,468.3 697.6,468.9 698.1,469.5 698.5,470.0 698.9,470.4 699.4,470.6 699.8,470.7 700.2,470.6 700.7,470.4 701.1,470.0 701.5,469.5 701.9,468.9 702.4,468.3 702.8,467.6 703.2,467.0 703.7,466.4 704.1,465.9 704.5,465.5 704.9,465.2 705.4,465.1 705.8,465.2 706.2,465.4 706.7,465.7 707.1,466.2 707.5,466.7 707.9,467.3 708.4,467.9 708.8,468.5 709.2,469.1 709.7,469.5 710.1,469.9 710.5,470.2 710.9,470.3 711.4,470.3 711.8,470.1 712.2,469.8 712.7,469.4 713.1,468.9 713.5,468.3 714.0,467.6 714.4,467.0 714.8,466.4 715.2,465.8 715.7,465.4 716.1,465.0 716.5,464.8 717.0,464.7 717.4,464.8 717.8,465.0 718.2,465.4 718.7,465.9 719.1,466.4 719.5,467.1 720.0,467.7 720.4,468.3 720.8,468.9 721.2,469.3 721.7,469.7 722.1,469.9 722.5,469.9 723.0,469.8 723.4,469.5 723.8,469.1 724.2,468.6 724.7,468.0 725.1,467.3 725.5,466.6 726.0,465.9 726.4,465.3 726.8,464.9 727.2,464.5 727.7,464.4 728.1,464.4 728.5,464.6 729.0,464.9 729.4,465.4 729.8,466.0 730.3,466.7 730.7,467.4 731.1,468.0 731.5,468.6 732.0,469.1 732.4,469.4 732.8,469.6 733.3,469.5 733.7,469.3 734.1,468.9 734.5,468.3 735.0,467.6 735.4,466.9 735.8,466.2 736.3,465.5 736.7,464.9 737.1,464.4 737.5,464.1 738.0,464.0 738.4,464.1 738.8,464.3 739.3,464.8 739.7,465.4 740.1,466.0 740.5,466.8 741.0,467.5 741.4,468.1 741.8,468.6 742.3,469.0 742.7,469.2 743.1,469.2 743.6,469.0 744.0,468.6 744.4,468.1 744.8,467.5 745.3,466.7 745.7,466.0 746.1,465.3 746.6,464.7 747.0,464.2 747.4,463.8 747.8,463.7 748.3,463.7 748.7,463.9 749.1,464.2 749.6,464.7 750.0,465.3 750.4,466.0 750.8,466.7 751.3,467.3 751.7,467.9 752.1,468.4 752.6,468.7 753.0,468.8 753.4,468.8 753.8,468.6 754.3,468.3 754.7,467.8 755.1,467.2 755.6,466.6 756.0,465.9 756.4,465.2 756.8,464.6 757.3,464.1 757.7,463.7 758.1,463.4 758.6,463.3 759.0,463.3 759.4,463.5 759.9,463.8 760.3,464.3 760.7,464.8 761.1,465.4 761.6,466.0 762.0,466.7 762.4,467.2 762.9,467.7 763.3,468.1 763.7,468.4 764.1,468.5 764.6,468.4 765.0,468.2 765.4,467.9 765.9,467.5 766.3,467.0 766.7,466.4 767.1,465.7 767.6,465.1 768.0,464.5 768.4,463.9 768.9,463.5 769.3,463.1 769.7,462.9 770.1,462.9 770.6,463.0 771.0,463.2 771.4,463.5 771.9,464.0 772.3,464.6 772.7,465.2 773.2,465.8 773.6,466.4 774.0,466.9 774.4,467.4 774.9,467.8 775.3,468.0 775.7,468.1 776.2,468.0 776.6,467.8 777.0,467.4 777.4,466.9 777.9,466.3 778.3,465.7" stroke="#b896e4" stroke-width="1.1"/><polyline points="692.5,465.8 692.9,466.1 693.4,466.5 693.8,467.0 694.2,467.6 694.6,468.2 695.1,468.9 695.5,469.5 695.9,470.0 696.4,470.4 696.8,470.7 697.2,470.8 697.6,470.8 698.1,470.6 698.5,470.3 698.9,469.9 699.4,469.4 699.8,468.8 700.2,468.2 700.7,467.5 701.1,466.9 701.5,466.3 701.9,465.9 702.4,465.5 702.8,465.3 703.2,465.2 703.7,465.3 704.1,465.5 704.5,465.8 704.9,466.3 705.4,466.8 705.8,467.4 706.2,468.0 706.7,468.6 707.1,469.2 707.5,469.7 707.9,470.0 708.4,470.3 708.8,470.4 709.2,470.4 709.7,470.2 710.1,469.8 710.5,469.4 710.9,468.8 711.4,468.2 711.8,467.5 712.2,466.9 712.7,466.2 713.1,465.7 713.5,465.3 714.0,465.0 714.4,464.8 714.8,464.8 715.2,465.0 715.7,465.4 716.1,465.9 716.5,466.4 717.0,467.1 717.4,467.7 717.8,468.4 718.2,469.0 718.7,469.5 719.1,469.8 719.5,470.0 720.0,470.0 720.4,469.8 720.8,469.5 721.2,469.0 721.7,468.4 722.1,467.7 722.5,467.0 723.0,466.3 723.4,465.6 723.8,465.1 724.2,464.7 724.7,464.5 725.1,464.5 725.5,464.6 726.0,465.0 726.4,465.5 726.8,466.1 727.2,466.8 727.7,467.5 728.1,468.2 728.5,468.8 729.0,469.3 729.4,469.6 729.8,469.7 730.3,469.6 730.7,469.3 731.1,468.9 731.5,468.3 732.0,467.6 732.4,466.9 732.8,466.1 733.3,465.4 733.7,464.9 734.1,464.4 734.5,464.2 735.0,464.1 735.4,464.2 735.8,464.5 736.3,465.0 736.7,465.6 737.1,466.3 737.5,467.0 738.0,467.6 738.4,468.3 738.8,468.8 739.3,469.1 739.7,469.3 740.1,469.3 740.5,469.1 741.0,468.8 741.4,468.3 741.8,467.7 742.3,467.0 742.7,466.3 743.1,465.6 743.6,465.0 744.0,464.4 744.4,464.0 744.8,463.8 745.3,463.7 745.7,463.8 746.1,464.1 746.6,464.5 747.0,465.0 747.4,465.6 747.8,466.3 748.3,466.9 748.7,467.5 749.1,468.0 749.6,468.5 750.0,468.8 750.4,468.9 750.8,468.9 751.3,468.8 751.7,468.5 752.1,468.0 752.6,467.5 753.0,466.9 753.4,466.3 753.8,465.6 754.3,465.0 754.7,464.4 755.1,464.0 755.6,463.6 756.0,463.4 756.4,463.3 756.8,463.4 757.3,463.6 757.7,464.0 758.1,464.4 758.6,465.0 759.0,465.6 759.4,466.2 759.9,466.8 760.3,467.3 760.7,467.8 761.1,468.2 761.6,468.4 762.0,468.5 762.4,468.5 762.9,468.3 763.3,468.0 763.7,467.5 764.1,467.0 764.6,466.4 765.0,465.7 765.4,465.1 765.9,464.5 766.3,463.9 766.7,463.5 767.1,463.2 767.6,463.0 768.0,463.0 768.4,463.1 768.9,463.4 769.3,463.8 769.7,464.3 770.1,464.9 770.6,465.6 771.0,466.2 771.4,466.8 771.9,467.4 772.3,467.8 772.7,468.0 773.2,468.2 773.6,468.1 774.0,467.9 774.4,467.5 774.9,466.9 775.3,466.3 775.7,465.6 776.2,464.9 776.6,464.2 777.0,463.6 777.4,463.1 777.9,462.8 778.3,462.6" stroke="#8a98e0" stroke-width="1.0"/><polyline points="692.5,468.4 692.9,469.0 693.4,469.6 693.8,470.1 694.2,470.5 694.6,470.7 695.1,470.9 695.5,470.9 695.9,470.7 696.4,470.4 696.8,470.0 697.2,469.4 697.6,468.8 698.1,468.2 698.5,467.5 698.9,466.9 699.4,466.4 699.8,465.9 700.2,465.6 700.7,465.3 701.1,465.3 701.5,465.4 701.9,465.6 702.4,466.0 702.8,466.5 703.2,467.1 703.7,467.7 704.1,468.4 704.5,469.0 704.9,469.5 705.4,470.0 705.8,470.3 706.2,470.5 706.7,470.5 707.1,470.3 707.5,470.0 707.9,469.5 708.4,468.9 708.8,468.3 709.2,467.6 709.7,466.9 710.1,466.2 710.5,465.7 710.9,465.3 711.4,465.0 711.8,464.9 712.2,465.0 712.7,465.3 713.1,465.7 713.5,466.3 714.0,466.9 714.4,467.6 714.8,468.3 715.2,469.0 715.7,469.5 716.1,469.9 716.5,470.1 717.0,470.1 717.4,470.0 717.8,469.6 718.2,469.1 718.7,468.5 719.1,467.7 719.5,467.0 720.0,466.3 720.4,465.6 720.8,465.1 721.2,464.8 721.7,464.6 722.1,464.6 722.5,464.8 723.0,465.2 723.4,465.7 723.8,466.4 724.2,467.1 724.7,467.8 725.1,468.5 725.5,469.0 726.0,469.4 726.4,469.7 726.8,469.8 727.2,469.7 727.7,469.4 728.1,468.9 728.5,468.3 729.0,467.6 729.4,466.9 729.8,466.2 730.3,465.5 730.7,465.0 731.1,464.5 731.5,464.3 732.0,464.2 732.4,464.3 732.8,464.6 733.3,465.0 733.7,465.6 734.1,466.2 734.5,466.9 735.0,467.5 735.4,468.1 735.8,468.7 736.3,469.1 736.7,469.3 737.1,469.4 737.5,469.3 738.0,469.1 738.4,468.7 738.8,468.2 739.3,467.6 739.7,467.0 740.1,466.3 740.5,465.7 741.0,465.1 741.4,464.6 741.8,464.2 742.3,463.9 742.7,463.8 743.1,463.9 743.6,464.1 744.0,464.4 744.4,464.9 744.8,465.4 745.3,466.0 745.7,466.6 746.1,467.2 746.6,467.8 747.0,468.3 747.4,468.7 747.8,468.9 748.3,469.0 748.7,469.0 749.1,468.8 749.6,468.5 750.0,468.1 750.4,467.5 750.8,466.9 751.3,466.3 751.7,465.7 752.1,465.0 752.6,464.5 753.0,464.0 753.4,463.7 753.8,463.5 754.3,463.4 754.7,463.5 755.1,463.7 755.6,464.1 756.0,464.6 756.4,465.1 756.8,465.7 757.3,466.4 757.7,467.0 758.1,467.5 758.6,468.0 759.0,468.4 759.4,468.6 759.9,468.6 760.3,468.5 760.7,468.3 761.1,467.9 761.6,467.3 762.0,466.7 762.4,466.0 762.9,465.4 763.3,464.7 763.7,464.1 764.1,463.6 764.6,463.3 765.0,463.1 765.4,463.0 765.9,463.2 766.3,463.5 766.7,464.0 767.1,464.6 767.6,465.2 768.0,465.9 768.4,466.6 768.9,467.2 769.3,467.7 769.7,468.0 770.1,468.2 770.6,468.2 771.0,468.1 771.4,467.7 771.9,467.2 772.3,466.5 772.7,465.8 773.2,465.1 773.6,464.4 774.0,463.8 774.4,463.2 774.9,462.9 775.3,462.7 775.7,462.7 776.2,462.9 776.6,463.3 777.0,463.9 777.4,464.5 777.9,465.2 778.3,465.9" stroke="#a07ad0" stroke-width="0.9"/><polyline points="692.5,477.4 692.9,476.6 693.4,475.9 693.8,475.2 694.2,474.7 694.6,474.3 695.1,474.0 695.5,474.0 695.9,474.1 696.4,474.5 696.8,475.0 697.2,475.6 697.6,476.3 698.1,477.0 698.5,477.6 698.9,478.2 699.4,478.7 699.8,479.0 700.2,479.2 700.7,479.2 701.1,478.9 701.5,478.6 701.9,478.0 702.4,477.4 702.8,476.7 703.2,476.0 703.7,475.3 704.1,474.7 704.5,474.2 704.9,473.8 705.4,473.7 705.8,473.6 706.2,473.8 706.7,474.1 707.1,474.5 707.5,475.1 707.9,475.7 708.4,476.4 708.8,477.0 709.2,477.6 709.7,478.1 710.1,478.5 710.5,478.7 710.9,478.8 711.4,478.8 711.8,478.6 712.2,478.2 712.7,477.7 713.1,477.1 713.5,476.5 714.0,475.9 714.4,475.2 714.8,474.6 715.2,474.1 715.7,473.7 716.1,473.4 716.5,473.3 717.0,473.3 717.4,473.4 717.8,473.7 718.2,474.1 718.7,474.6 719.1,475.2 719.5,475.8 720.0,476.4 720.4,477.0 720.8,477.5 721.2,477.9 721.7,478.2 722.1,478.4 722.5,478.4 723.0,478.3 723.4,478.1 723.8,477.7 724.2,477.2 724.7,476.6 725.1,476.0 725.5,475.3 726.0,474.7 726.4,474.1 726.8,473.6 727.2,473.2 727.7,472.9 728.1,472.8 728.5,472.9 729.0,473.1 729.4,473.4 729.8,473.9 730.3,474.4 730.7,475.1 731.1,475.7 731.5,476.3 732.0,476.9 732.4,477.4 732.8,477.8 733.3,478.0 733.7,478.0 734.1,477.9 734.5,477.7 735.0,477.2 735.4,476.7 735.8,476.0 736.3,475.3 736.7,474.6 737.1,474.0 737.5,473.4 738.0,472.9 738.4,472.6 738.8,472.5 739.3,472.5 739.7,472.7 740.1,473.1 740.5,473.6 741.0,474.3 741.4,475.0 741.8,475.7 742.3,476.3 742.7,476.9 743.1,477.3 743.6,477.6 744.0,477.7 744.4,477.6 744.8,477.3 745.3,476.8 745.7,476.2 746.1,475.5 746.6,474.8 747.0,474.0 747.4,473.4 747.8,472.8 748.3,472.4 748.7,472.2 749.1,472.1 749.6,472.3 750.0,472.6 750.4,473.1 750.8,473.7 751.3,474.4 751.7,475.1 752.1,475.8 752.6,476.4 753.0,476.9 753.4,477.2 753.8,477.3 754.3,477.3 754.7,477.0 755.1,476.6 755.6,476.0 756.0,475.4 756.4,474.7 756.8,473.9 757.3,473.2 757.7,472.7 758.1,472.2 758.6,471.9 759.0,471.8 759.4,471.8 759.9,472.0 760.3,472.4 760.7,472.9 761.1,473.5 761.6,474.2 762.0,474.9 762.4,475.5 762.9,476.1 763.3,476.5 763.7,476.8 764.1,477.0 764.6,476.9 765.0,476.8 765.4,476.4 765.9,476.0 766.3,475.4 766.7,474.8 767.1,474.1 767.6,473.4 768.0,472.8 768.4,472.3 768.9,471.8 769.3,471.5 769.7,471.4 770.1,471.4 770.6,471.5 771.0,471.8 771.4,472.3 771.9,472.8 772.3,473.3 772.7,474.0 773.2,474.6 773.6,475.2 774.0,475.7 774.4,476.1 774.9,476.4 775.3,476.5 775.7,476.6 776.2,476.4 776.6,476.2 777.0,475.8 777.4,475.3 777.9,474.7 778.3,474.1" stroke="#a486dc" stroke-width="1.2"/><polyline points="692.5,474.1 692.9,474.2 693.4,474.6 693.8,475.0 694.2,475.6 694.6,476.2 695.1,476.9 695.5,477.6 695.9,478.2 696.4,478.7 696.8,479.0 697.2,479.3 697.6,479.3 698.1,479.2 698.5,478.9 698.9,478.5 699.4,477.9 699.8,477.3 700.2,476.6 700.7,475.9 701.1,475.3 701.5,474.7 701.9,474.3 702.4,473.9 702.8,473.8 703.2,473.7 703.7,473.8 704.1,474.1 704.5,474.5 704.9,475.0 705.4,475.6 705.8,476.2 706.2,476.8 706.7,477.4 707.1,477.9 707.5,478.4 707.9,478.7 708.4,478.9 708.8,478.9 709.2,478.8 709.7,478.6 710.1,478.2 710.5,477.7 710.9,477.1 711.4,476.5 711.8,475.9 712.2,475.2 712.7,474.7 713.1,474.1 713.5,473.7 714.0,473.5 714.4,473.3 714.8,473.3 715.2,473.5 715.7,473.8 716.1,474.2 716.5,474.7 717.0,475.3 717.4,475.9 717.8,476.5 718.2,477.1 718.7,477.6 719.1,478.1 719.5,478.3 720.0,478.5 720.4,478.5 720.8,478.3 721.2,478.0 721.7,477.6 722.1,477.0 722.5,476.4 723.0,475.7 723.4,475.0 723.8,474.4 724.2,473.8 724.7,473.4 725.1,473.1 725.5,472.9 726.0,473.0 726.4,473.2 726.8,473.5 727.2,474.0 727.7,474.6 728.1,475.3 728.5,475.9 729.0,476.6 729.4,477.2 729.8,477.6 730.3,478.0 730.7,478.1 731.1,478.1 731.5,477.9 732.0,477.5 732.4,477.0 732.8,476.3 733.3,475.6 733.7,474.9 734.1,474.2 734.5,473.6 735.0,473.1 735.4,472.7 735.8,472.6 736.3,472.6 736.7,472.8 737.1,473.3 737.5,473.8 738.0,474.5 738.4,475.2 738.8,475.9 739.3,476.5 739.7,477.1 740.1,477.5 740.5,477.7 741.0,477.8 741.4,477.6 741.8,477.3 742.3,476.8 742.7,476.2 743.1,475.4 743.6,474.7 744.0,474.0 744.4,473.3 744.8,472.8 745.3,472.4 745.7,472.2 746.1,472.2 746.6,472.4 747.0,472.8 747.4,473.3 747.8,473.9 748.3,474.6 748.7,475.3 749.1,475.9 749.6,476.5 750.0,477.0 750.4,477.3 750.8,477.4 751.3,477.4 751.7,477.2 752.1,476.8 752.6,476.3 753.0,475.7 753.4,475.0 753.8,474.3 754.3,473.7 754.7,473.1 755.1,472.5 755.6,472.2 756.0,471.9 756.4,471.8 756.8,471.9 757.3,472.2 757.7,472.6 758.1,473.1 758.6,473.6 759.0,474.3 759.4,474.9 759.9,475.5 760.3,476.0 760.7,476.5 761.1,476.8 761.6,477.0 762.0,477.0 762.4,476.9 762.9,476.7 763.3,476.3 763.7,475.8 764.1,475.2 764.6,474.6 765.0,473.9 765.4,473.3 765.9,472.7 766.3,472.2 766.7,471.8 767.1,471.6 767.6,471.5 768.0,471.5 768.4,471.6 768.9,471.9 769.3,472.4 769.7,472.9 770.1,473.5 770.6,474.1 771.0,474.7 771.4,475.3 771.9,475.8 772.3,476.2 772.7,476.5 773.2,476.6 773.6,476.6 774.0,476.5 774.4,476.2 774.9,475.8 775.3,475.3 775.7,474.7 776.2,474.0 776.6,473.3 777.0,472.7 777.4,472.1 777.9,471.7 778.3,471.3" stroke="#6c84d4" stroke-width="1.0"/><polyline points="692.5,477.1 692.9,477.7 693.4,478.3 693.8,478.7 694.2,479.1 694.6,479.3 695.1,479.4 695.5,479.3 695.9,479.1 696.4,478.7 696.8,478.2 697.2,477.7 697.6,477.0 698.1,476.4 698.5,475.8 698.9,475.2 699.4,474.7 699.8,474.2 700.2,474.0 700.7,473.8 701.1,473.8 701.5,474.0 701.9,474.2 702.4,474.6 702.8,475.1 703.2,475.7 703.7,476.3 704.1,476.9 704.5,477.5 704.9,478.0 705.4,478.5 705.8,478.8 706.2,479.0 706.7,479.0 707.1,478.9 707.5,478.6 707.9,478.2 708.4,477.7 708.8,477.1 709.2,476.5 709.7,475.8 710.1,475.2 710.5,474.6 710.9,474.1 711.4,473.7 711.8,473.5 712.2,473.4 712.7,473.5 713.1,473.7 713.5,474.1 714.0,474.5 714.4,475.1 714.8,475.8 715.2,476.4 715.7,477.1 716.1,477.6 716.5,478.1 717.0,478.4 717.4,478.6 717.8,478.6 718.2,478.4 718.7,478.1 719.1,477.6 719.5,477.0 720.0,476.3 720.4,475.6 720.8,474.9 721.2,474.2 721.7,473.7 722.1,473.3 722.5,473.1 723.0,473.0 723.4,473.2 723.8,473.5 724.2,474.0 724.7,474.6 725.1,475.2 725.5,476.0 726.0,476.6 726.4,477.3 726.8,477.7 727.2,478.1 727.7,478.2 728.1,478.2 728.5,478.0 729.0,477.6 729.4,477.0 729.8,476.3 730.3,475.6 730.7,474.8 731.1,474.1 731.5,473.5 732.0,473.1 732.4,472.8 732.8,472.7 733.3,472.8 733.7,473.0 734.1,473.5 734.5,474.1 735.0,474.7 735.4,475.4 735.8,476.1 736.3,476.8 736.7,477.3 737.1,477.7 737.5,477.9 738.0,477.9 738.4,477.7 738.8,477.4 739.3,476.9 739.7,476.2 740.1,475.5 740.5,474.8 741.0,474.1 741.4,473.5 741.8,473.0 742.3,472.6 742.7,472.4 743.1,472.3 743.6,472.4 744.0,472.7 744.4,473.2 744.8,473.7 745.3,474.3 745.7,475.0 746.1,475.6 746.6,476.2 747.0,476.8 747.4,477.2 747.8,477.4 748.3,477.5 748.7,477.5 749.1,477.3 749.6,476.9 750.0,476.4 750.4,475.8 750.8,475.2 751.3,474.6 751.7,473.9 752.1,473.3 752.6,472.8 753.0,472.4 753.4,472.1 753.8,471.9 754.3,472.0 754.7,472.1 755.1,472.4 755.6,472.8 756.0,473.3 756.4,473.9 756.8,474.5 757.3,475.1 757.7,475.7 758.1,476.2 758.6,476.6 759.0,476.9 759.4,477.1 759.9,477.1 760.3,477.0 760.7,476.7 761.1,476.3 761.6,475.8 762.0,475.3 762.4,474.6 762.9,474.0 763.3,473.4 763.7,472.8 764.1,472.3 764.6,471.9 765.0,471.6 765.4,471.5 765.9,471.6 766.3,471.8 766.7,472.1 767.1,472.6 767.6,473.1 768.0,473.7 768.4,474.4 768.9,475.0 769.3,475.6 769.7,476.1 770.1,476.4 770.6,476.7 771.0,476.7 771.4,476.6 771.9,476.4 772.3,476.0 772.7,475.5 773.2,474.8 773.6,474.1 774.0,473.5 774.4,472.8 774.9,472.2 775.3,471.7 775.7,471.3 776.2,471.2 776.6,471.2 777.0,471.3 777.4,471.7 777.9,472.2 778.3,472.8" stroke="#caaaee" stroke-width="1.1"/><polyline points="692.5,479.4 692.9,479.5 693.4,479.4 693.8,479.1 694.2,478.8 694.6,478.3 695.1,477.7 695.5,477.1 695.9,476.4 696.4,475.8 696.8,475.2 697.2,474.7 697.6,474.3 698.1,474.0 698.5,473.9 698.9,473.9 699.4,474.1 699.8,474.4 700.2,474.8 700.7,475.3 701.1,475.9 701.5,476.5 701.9,477.2 702.4,477.7 702.8,478.3 703.2,478.7 703.7,478.9 704.1,479.1 704.5,479.0 704.9,478.8 705.4,478.5 705.8,478.0 706.2,477.4 706.7,476.8 707.1,476.1 707.5,475.4 707.9,474.8 708.4,474.2 708.8,473.8 709.2,473.6 709.7,473.5 710.1,473.6 710.5,473.9 710.9,474.3 711.4,474.8 711.8,475.5 712.2,476.1 712.7,476.8 713.1,477.5 713.5,478.0 714.0,478.4 714.4,478.6 714.8,478.7 715.2,478.6 715.7,478.2 716.1,477.8 716.5,477.2 717.0,476.5 717.4,475.7 717.8,475.0 718.2,474.3 718.7,473.8 719.1,473.4 719.5,473.2 720.0,473.1 720.4,473.3 720.8,473.7 721.2,474.2 721.7,474.8 722.1,475.5 722.5,476.2 723.0,476.9 723.4,477.5 723.8,478.0 724.2,478.2 724.7,478.4 725.1,478.3 725.5,478.0 726.0,477.5 726.4,477.0 726.8,476.3 727.2,475.5 727.7,474.8 728.1,474.1 728.5,473.6 729.0,473.1 729.4,472.9 729.8,472.8 730.3,472.9 730.7,473.2 731.1,473.6 731.5,474.2 732.0,474.8 732.4,475.5 732.8,476.1 733.3,476.8 733.7,477.3 734.1,477.7 734.5,477.9 735.0,478.0 735.4,477.9 735.8,477.6 736.3,477.2 736.7,476.7 737.1,476.0 737.5,475.4 738.0,474.7 738.4,474.0 738.8,473.5 739.3,473.0 739.7,472.6 740.1,472.4 740.5,472.4 741.0,472.5 741.4,472.8 741.8,473.2 742.3,473.7 742.7,474.3 743.1,474.9 743.6,475.5 744.0,476.1 744.4,476.6 744.8,477.1 745.3,477.4 745.7,477.6 746.1,477.6 746.6,477.5 747.0,477.2 747.4,476.8 747.8,476.4 748.3,475.8 748.7,475.2 749.1,474.5 749.6,473.9 750.0,473.3 750.4,472.8 750.8,472.4 751.3,472.1 751.7,472.0 752.1,472.0 752.6,472.2 753.0,472.5 753.4,472.9 753.8,473.4 754.3,474.0 754.7,474.6 755.1,475.2 755.6,475.8 756.0,476.3 756.4,476.8 756.8,477.0 757.3,477.2 757.7,477.2 758.1,477.0 758.6,476.7 759.0,476.3 759.4,475.7 759.9,475.1 760.3,474.4 760.7,473.8 761.1,473.1 761.6,472.6 762.0,472.1 762.4,471.8 762.9,471.6 763.3,471.6 763.7,471.8 764.1,472.1 764.6,472.6 765.0,473.2 765.4,473.8 765.9,474.5 766.3,475.1 766.7,475.7 767.1,476.2 767.6,476.6 768.0,476.8 768.4,476.8 768.9,476.6 769.3,476.3 769.7,475.8 770.1,475.2 770.6,474.5 771.0,473.8 771.4,473.1 771.9,472.4 772.3,471.9 772.7,471.5 773.2,471.3 773.6,471.3 774.0,471.4 774.4,471.8 774.9,472.3 775.3,472.9 775.7,473.6 776.2,474.3 776.6,475.0 777.0,475.6 777.4,476.1 777.9,476.4 778.3,476.5" stroke="#8a6cc8" stroke-width="0.9"/></g>
<path d="M706.1,562 V489" stroke="#888" stroke-width="1" stroke-dasharray="2.2,1.8"/>
<path d="M706.1,484.4 L703.3,489.6 L708.9,489.6 Z" fill="#888"/>
<text x="680.4" y="574.5" font-size="13" textLength="51.6" lengthAdjust="spacingAndGlyphs" fill="#1a1a1a" >Collagen</text>
<defs><linearGradient id="ga1" gradientUnits="userSpaceOnUse" x1="627" y1="506" x2="676" y2="480"><stop offset="0" stop-color="#111" stop-opacity="0"/><stop offset="0.55" stop-color="#111" stop-opacity="0.9"/><stop offset="1" stop-color="#111"/></linearGradient><linearGradient id="ga2" gradientUnits="userSpaceOnUse" x1="609" y1="579" x2="710" y2="518"><stop offset="0" stop-color="#111" stop-opacity="0"/><stop offset="0.45" stop-color="#111" stop-opacity="0.95"/><stop offset="1" stop-color="#111"/></linearGradient></defs>
<path d="M627.7,506.6 C640,494 656,485 677,480.2" fill="none" stroke="url(#ga1)" stroke-width="3"/>
<path d="M688,478.6 L676.2,472.8 L677.6,485.8 Z" fill="#111"/>
<path d="M609,578.7 C630,553 662,530 711,518.2" fill="none" stroke="url(#ga2)" stroke-width="4.4"/>
<path d="M724.5,517 L708.8,506.5 L711.5,528.2 Z" fill="#111"/>
<path d="M546.7,600.6 C580,565 620,525 660,505 C690,490 730,484 776.5,484.2" fill="none" stroke="#111" stroke-width="3.6"/>
<g><circle cx="580.9" cy="604.5" r="17.3" fill="#e48a88" stroke="#cdb56a" stroke-width="1.3"/><circle cx="593.61" cy="608.43" r="0.6" fill="#c85a60"/><circle cx="589.94" cy="614.26" r="0.6" fill="#c85a60"/><circle cx="583.85" cy="617.47" r="0.6" fill="#c85a60"/><circle cx="576.97" cy="617.21" r="0.6" fill="#c85a60"/><circle cx="571.14" cy="613.54" r="0.6" fill="#c85a60"/><circle cx="567.93" cy="607.45" r="0.6" fill="#c85a60"/><circle cx="568.19" cy="600.57" r="0.6" fill="#c85a60"/><circle cx="571.86" cy="594.74" r="0.6" fill="#c85a60"/><circle cx="577.95" cy="591.53" r="0.6" fill="#c85a60"/><circle cx="584.83" cy="591.79" r="0.6" fill="#c85a60"/><circle cx="590.66" cy="595.46" r="0.6" fill="#c85a60"/><circle cx="593.87" cy="601.55" r="0.6" fill="#c85a60"/><circle cx="580.9" cy="604.5" r="9.3" fill="#e8a0a4" stroke="#a9a0e2" stroke-width="1.2"/><circle cx="580.9" cy="604.5" r="8.100000000000001" fill="none" stroke="#f4eef8" stroke-width="0.6"/><circle cx="580.9" cy="604.5" r="7.700000000000001" fill="#e59a9c"/><circle cx="580.9" cy="604.5" r="5.8" fill="#fff" stroke="#f0c8c8" stroke-width="0.8"/></g>
<g><circle cx="755.3" cy="517.3" r="22.4" fill="#e48a88" stroke="#cdb56a" stroke-width="1.3"/><circle cx="773.55" cy="522.94" r="0.6" fill="#c85a60"/><circle cx="768.28" cy="531.31" r="0.6" fill="#c85a60"/><circle cx="759.54" cy="535.92" r="0.6" fill="#c85a60"/><circle cx="749.66" cy="535.55" r="0.6" fill="#c85a60"/><circle cx="741.29" cy="530.28" r="0.6" fill="#c85a60"/><circle cx="736.68" cy="521.54" r="0.6" fill="#c85a60"/><circle cx="737.05" cy="511.66" r="0.6" fill="#c85a60"/><circle cx="742.32" cy="503.29" r="0.6" fill="#c85a60"/><circle cx="751.06" cy="498.68" r="0.6" fill="#c85a60"/><circle cx="760.94" cy="499.05" r="0.6" fill="#c85a60"/><circle cx="769.31" cy="504.32" r="0.6" fill="#c85a60"/><circle cx="773.92" cy="513.06" r="0.6" fill="#c85a60"/><circle cx="755.3" cy="517.3" r="15.8" fill="#e8a0a4" stroke="#a9a0e2" stroke-width="1.2"/><circle cx="755.3" cy="517.3" r="14.600000000000001" fill="none" stroke="#f4eef8" stroke-width="0.6"/><circle cx="755.3" cy="517.3" r="14.200000000000001" fill="#e68a90"/><circle cx="755.3" cy="517.3" r="11.6" fill="#fff"/><circle cx="755.30" cy="505.40" r="3" fill="#dc6a72"/><circle cx="766.62" cy="513.62" r="3" fill="#dc6a72"/><circle cx="762.29" cy="526.93" r="3" fill="#dc6a72"/><circle cx="748.31" cy="526.93" r="3" fill="#dc6a72"/><circle cx="743.98" cy="513.62" r="3" fill="#dc6a72"/><circle cx="755.3" cy="517.3" r="10.0" fill="#fff"/></g>
<text x="828" y="461" font-size="21" fill="#1a1a1a" >II)</text>
<rect x="887.5" y="534.2" width="244.3" height="60.8" fill="#d08c92"/>
<rect x="951.9" y="495.3" width="65.6" height="140.7" fill="#d6e8d5"/>
<rect x="951.9" y="534.2" width="65.6" height="60.8" fill="#cccebe"/>
<text x="954.3" y="506.4" font-size="10.5" textLength="60.8" lengthAdjust="spacingAndGlyphs" fill="#7d877d" >Physiological</text>
<text x="984.7" y="518.9" font-size="10.5" text-anchor="middle" fill="#7d877d" >range</text>
<text x="1063.5" y="573" font-size="10.5" textLength="61.6" lengthAdjust="spacingAndGlyphs" fill="#8c6468" >Physiological</text>
<text x="1095" y="584.5" font-size="10.5" text-anchor="middle" fill="#8c6468" >range</text>
<path d="M886.6,489 V636.8 H1132.6 V489.7" fill="none" stroke="#1a1a1a" stroke-width="2.2"/>
<path d="M878.3,495.8 H886" stroke="#555" stroke-width="1"/>
<text x="876.7" y="499.40000000000003" font-size="10.2" text-anchor="end" fill="#222" >0,016</text>
<path d="M878.3,534.7 H886" stroke="#555" stroke-width="1"/>
<text x="876.7" y="538.3000000000001" font-size="10.2" text-anchor="end" fill="#222" >0,012</text>
<path d="M878.3,572 H886" stroke="#555" stroke-width="1"/>
<text x="876.7" y="575.6" font-size="10.2" text-anchor="end" fill="#222" >0,008</text>
<path d="M878.3,608 H886" stroke="#555" stroke-width="1"/>
<text x="876.7" y="611.6" font-size="10.2" text-anchor="end" fill="#222" >0,004</text>
<path d="M878.3,636.8 H886" stroke="#555" stroke-width="1"/>
<text x="876.7" y="640.4" font-size="10.2" text-anchor="end" fill="#222" >0</text>
<path d="M1133,496.6 H1139" stroke="#555" stroke-width="1"/>
<text x="1144.5" y="500.20000000000005" font-size="10.2" fill="#222" >14</text>
<path d="M1133,535.5 H1139" stroke="#555" stroke-width="1"/>
<text x="1144.5" y="539.1" font-size="10.2" fill="#222" >10</text>
<path d="M1133,573 H1139" stroke="#555" stroke-width="1"/>
<text x="1144.5" y="576.6" font-size="10.2" fill="#222" >6</text>
<path d="M1133,608.2 H1139" stroke="#555" stroke-width="1"/>
<text x="1144.5" y="611.8000000000001" font-size="10.2" fill="#222" >2</text>
<path d="M926.6,637.5 V643.7" stroke="#444" stroke-width="1"/>
<text x="926.6" y="656.8" font-size="10.2" text-anchor="middle" fill="#222" >50</text>
<path d="M983.6,637.5 V643.7" stroke="#444" stroke-width="1"/>
<text x="983.6" y="655.9" font-size="10.2" text-anchor="middle" fill="#222" >100</text>
<path d="M1042.5,637.5 V643.7" stroke="#444" stroke-width="1"/>
<text x="1042.5" y="658" font-size="10.2" text-anchor="middle" fill="#222" >150</text>
<path d="M1099.5,637.5 V643.7" stroke="#444" stroke-width="1"/>
<text x="1099.5" y="656.8" font-size="10.2" text-anchor="middle" fill="#222" >200</text>
<text x="959.3" y="670.5" font-size="13.4" textLength="104.8" lengthAdjust="spacingAndGlyphs" fill="#1a1a1a" >Pressure (mmHg)</text>
<text transform="translate(840,554.9) rotate(-90)" x="0" y="0" font-size="13" text-anchor="middle" textLength="74.3" lengthAdjust="spacingAndGlyphs" fill="#1a1a1a">D (1/mmHg)</text>
<text transform="translate(1166.5,555.6) rotate(90)" x="0" y="0" font-size="13" text-anchor="middle" textLength="65.2" lengthAdjust="spacingAndGlyphs" fill="#1a1a1a">PWV (m/s)</text>
<path d="M893.2,537.1 C897,535.5 900,535 904.3,535.4 C915,536.5 925,540 935,548 C945,556 952,563 960,570.5 C969,580 978,589 988,596.5 C998,603 1010,608.5 1025,613 C1045,619 1075,623 1121.5,624.2" fill="none" stroke="#4b5ba7" stroke-width="3" stroke-linecap="round"/>
<path d="M892.5,623.4 C896,624 900,624.3 905,624.2 C915,623.8 925,621 935,617.5 C955,610 970,602 990,591 C1010,579 1030,565 1050,550 C1070,535 1092,518 1112.6,500.8" fill="none" stroke="#4dbf2a" stroke-width="4" stroke-linecap="round"/>
<text x="1073.8" y="548" font-size="13" textLength="28.3" lengthAdjust="spacingAndGlyphs" fill="#111" >PWV</text>
<text x="1053" y="615.4" font-size="13.6" textLength="75.7" lengthAdjust="spacingAndGlyphs" fill="#111" >Distensibility</text>
</svg>
</body></html>
